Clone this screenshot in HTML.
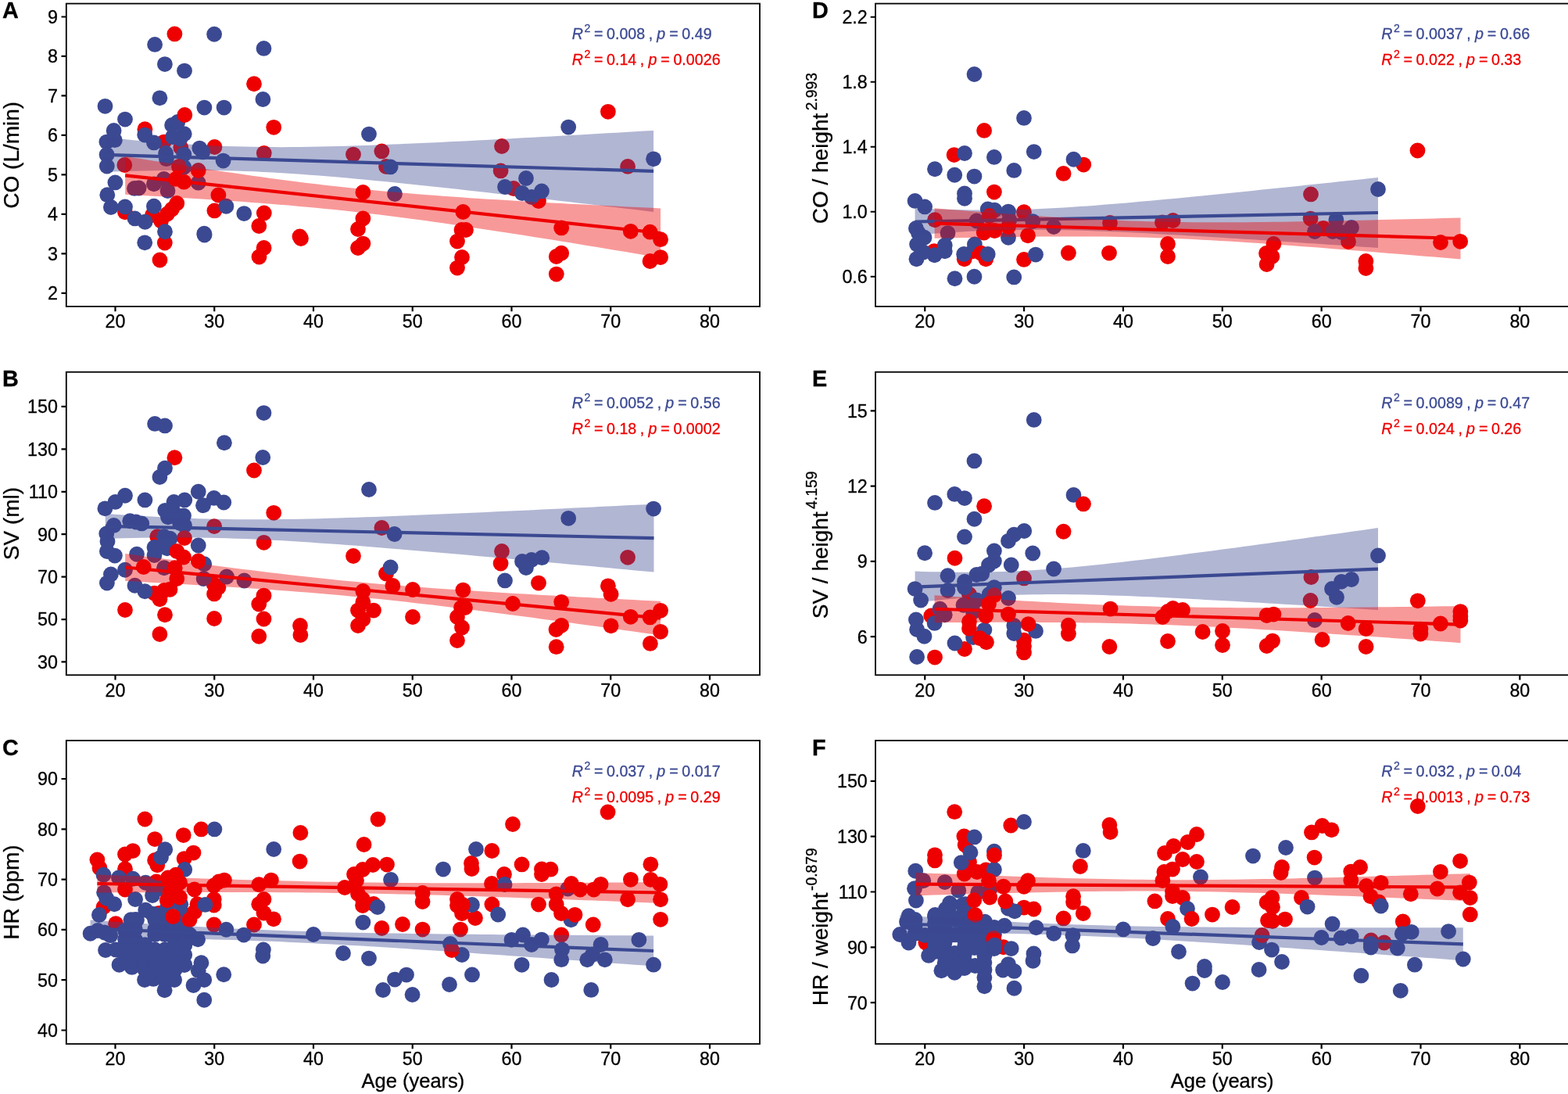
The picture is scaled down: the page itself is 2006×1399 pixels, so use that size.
<!DOCTYPE html>
<html lang="en"><head><meta charset="utf-8"><title>Figure</title>
<style>html,body{margin:0;padding:0;background:#fff}svg{display:block}text{font-family:"Liberation Sans",Arial,Helvetica,sans-serif;stroke-width:0.3px;stroke:currentColor;paint-order:stroke}</style></head>
<body>
<svg width="2006" height="1399" viewBox="0 0 2006 1399" role="img" aria-label="Scatter plots of CO, SV and HR versus age">
<rect width="2006" height="1399" fill="#fff"/>
<g id="panelA">
<g>
<circle cx="223.4" cy="43.4" r="9.9" fill="#EE0000"/><circle cx="325" cy="107.25" r="9.9" fill="#EE0000"/><circle cx="185.4" cy="165.2" r="9.9" fill="#EE0000"/><circle cx="350.2" cy="162.8" r="9.9" fill="#EE0000"/><circle cx="209.7" cy="181.6" r="9.9" fill="#EE0000"/><circle cx="231.3" cy="188.8" r="9.9" fill="#EE0000"/><circle cx="274.5" cy="188" r="9.9" fill="#EE0000"/><circle cx="337.8" cy="195.8" r="9.9" fill="#EE0000"/><circle cx="159.3" cy="211" r="9.9" fill="#EE0000"/><circle cx="279.4" cy="249.5" r="9.9" fill="#EE0000"/><circle cx="274.4" cy="269.4" r="9.9" fill="#EE0000"/><circle cx="226.25" cy="260" r="9.9" fill="#EE0000"/><circle cx="220" cy="267.5" r="9.9" fill="#EE0000"/><circle cx="213.75" cy="273.75" r="9.9" fill="#EE0000"/><circle cx="206" cy="282.5" r="9.9" fill="#EE0000"/><circle cx="195" cy="275" r="9.9" fill="#EE0000"/><circle cx="160" cy="271.25" r="9.9" fill="#EE0000"/><circle cx="337.8" cy="272.4" r="9.9" fill="#EE0000"/><circle cx="331.3" cy="289" r="9.9" fill="#EE0000"/><circle cx="210.8" cy="310.5" r="9.9" fill="#EE0000"/><circle cx="204.5" cy="332.5" r="9.9" fill="#EE0000"/><circle cx="337.6" cy="317" r="9.9" fill="#EE0000"/><circle cx="331.5" cy="328.5" r="9.9" fill="#EE0000"/><circle cx="383.5" cy="302.5" r="9.9" fill="#EE0000"/><circle cx="385" cy="305" r="9.9" fill="#EE0000"/><circle cx="452" cy="197.6" r="9.9" fill="#EE0000"/><circle cx="488.4" cy="193.4" r="9.9" fill="#EE0000"/><circle cx="494" cy="213" r="9.9" fill="#EE0000"/><circle cx="642" cy="187" r="9.9" fill="#EE0000"/><circle cx="640.6" cy="218.4" r="9.9" fill="#EE0000"/><circle cx="657" cy="241" r="9.9" fill="#EE0000"/><circle cx="689" cy="257" r="9.9" fill="#EE0000"/><circle cx="464.4" cy="246" r="9.9" fill="#EE0000"/><circle cx="464.4" cy="279.4" r="9.9" fill="#EE0000"/><circle cx="458" cy="293" r="9.9" fill="#EE0000"/><circle cx="464.4" cy="311.6" r="9.9" fill="#EE0000"/><circle cx="458" cy="317" r="9.9" fill="#EE0000"/><circle cx="592.4" cy="271" r="9.9" fill="#EE0000"/><circle cx="590.5" cy="294" r="9.9" fill="#EE0000"/><circle cx="596" cy="294" r="9.9" fill="#EE0000"/><circle cx="585" cy="308.6" r="9.9" fill="#EE0000"/><circle cx="591" cy="329" r="9.9" fill="#EE0000"/><circle cx="585" cy="342.6" r="9.9" fill="#EE0000"/><circle cx="718.2" cy="291.4" r="9.9" fill="#EE0000"/><circle cx="718.2" cy="323.7" r="9.9" fill="#EE0000"/><circle cx="711.8" cy="328" r="9.9" fill="#EE0000"/><circle cx="711.8" cy="350.6" r="9.9" fill="#EE0000"/><circle cx="777.9" cy="142.8" r="9.9" fill="#EE0000"/><circle cx="803.1" cy="212.9" r="9.9" fill="#EE0000"/><circle cx="806.8" cy="295.8" r="9.9" fill="#EE0000"/><circle cx="831.6" cy="296.7" r="9.9" fill="#EE0000"/><circle cx="845.1" cy="306.2" r="9.9" fill="#EE0000"/><circle cx="845.1" cy="329.1" r="9.9" fill="#EE0000"/><circle cx="831.6" cy="334" r="9.9" fill="#EE0000"/><circle cx="134.5" cy="135.8" r="9.9" fill="#3B4992"/><circle cx="160" cy="152.6" r="9.9" fill="#3B4992"/><circle cx="145.6" cy="167" r="9.9" fill="#3B4992"/><circle cx="146.8" cy="179.2" r="9.9" fill="#3B4992"/><circle cx="136.4" cy="181.6" r="9.9" fill="#3B4992"/><circle cx="136.6" cy="197.8" r="9.9" fill="#3B4992"/><circle cx="136.8" cy="212.5" r="9.9" fill="#3B4992"/><circle cx="147.4" cy="233.4" r="9.9" fill="#3B4992"/><circle cx="137.3" cy="249.2" r="9.9" fill="#3B4992"/><circle cx="141.9" cy="265" r="9.9" fill="#3B4992"/><circle cx="160" cy="264.4" r="9.9" fill="#3B4992"/><circle cx="172.5" cy="279.4" r="9.9" fill="#3B4992"/><circle cx="185.6" cy="283.75" r="9.9" fill="#3B4992"/><circle cx="196.9" cy="263.75" r="9.9" fill="#3B4992"/><circle cx="211" cy="296.25" r="9.9" fill="#3B4992"/><circle cx="261.25" cy="298.75" r="9.9" fill="#3B4992"/><circle cx="261.6" cy="300.6" r="9.9" fill="#3B4992"/><circle cx="289.4" cy="263.75" r="9.9" fill="#3B4992"/><circle cx="312.25" cy="273.1" r="9.9" fill="#3B4992"/><circle cx="261.4" cy="137.6" r="9.9" fill="#3B4992"/><circle cx="286.6" cy="137.6" r="9.9" fill="#3B4992"/><circle cx="204.4" cy="125.3" r="9.9" fill="#3B4992"/><circle cx="336.4" cy="127" r="9.9" fill="#3B4992"/><circle cx="198.1" cy="56.9" r="9.9" fill="#3B4992"/><circle cx="274.1" cy="43.75" r="9.9" fill="#3B4992"/><circle cx="337.5" cy="61.9" r="9.9" fill="#3B4992"/><circle cx="210.9" cy="82.1" r="9.9" fill="#3B4992"/><circle cx="236" cy="90.6" r="9.9" fill="#3B4992"/><circle cx="185.2" cy="172.6" r="9.9" fill="#3B4992"/><circle cx="196.9" cy="182.4" r="9.9" fill="#3B4992"/><circle cx="212.1" cy="196" r="9.9" fill="#3B4992"/><circle cx="220.1" cy="160" r="9.9" fill="#3B4992"/><circle cx="227.3" cy="156" r="9.9" fill="#3B4992"/><circle cx="235.7" cy="171.2" r="9.9" fill="#3B4992"/><circle cx="230.5" cy="177.6" r="9.9" fill="#3B4992"/><circle cx="220.9" cy="175.2" r="9.9" fill="#3B4992"/><circle cx="255.3" cy="189.6" r="9.9" fill="#3B4992"/><circle cx="259.3" cy="194.4" r="9.9" fill="#3B4992"/><circle cx="235.3" cy="197.6" r="9.9" fill="#3B4992"/><circle cx="235.3" cy="213.7" r="9.9" fill="#3B4992"/><circle cx="285.6" cy="205.6" r="9.9" fill="#3B4992"/><circle cx="212.9" cy="203.2" r="9.9" fill="#3B4992"/><circle cx="172" cy="240.9" r="9.9" fill="#3B4992"/><circle cx="177.6" cy="240.5" r="9.9" fill="#3B4992"/><circle cx="196.9" cy="235.3" r="9.9" fill="#3B4992"/><circle cx="209.7" cy="228.9" r="9.9" fill="#3B4992"/><circle cx="214.5" cy="244.1" r="9.9" fill="#3B4992"/><circle cx="253.7" cy="233.7" r="9.9" fill="#3B4992"/><circle cx="472" cy="171.6" r="9.9" fill="#3B4992"/><circle cx="499.6" cy="213.4" r="9.9" fill="#3B4992"/><circle cx="505" cy="248" r="9.9" fill="#3B4992"/><circle cx="727.2" cy="162.6" r="9.9" fill="#3B4992"/><circle cx="646" cy="239" r="9.9" fill="#3B4992"/><circle cx="673" cy="228" r="9.9" fill="#3B4992"/><circle cx="693" cy="244.4" r="9.9" fill="#3B4992"/><circle cx="668" cy="247" r="9.9" fill="#3B4992"/><circle cx="680" cy="252" r="9.9" fill="#3B4992"/><circle cx="836.1" cy="203.3" r="9.9" fill="#3B4992"/><circle cx="185.2" cy="310.3" r="9.9" fill="#3B4992"/><circle cx="236.3" cy="147" r="9.9" fill="#EE0000"/><circle cx="228.9" cy="212.9" r="9.9" fill="#EE0000"/><circle cx="253.7" cy="218" r="9.9" fill="#EE0000"/><circle cx="224.9" cy="228.9" r="9.9" fill="#EE0000"/><circle cx="235.3" cy="232.7" r="9.9" fill="#EE0000"/>
</g>
<polygon points="134.8,175.9 146.69,177.02 158.57,178.11 170.46,179.16 182.35,180.18 194.23,181.15 206.12,182.08 218.01,182.95 229.89,183.77 241.78,184.53 253.66,185.23 265.55,185.85 277.44,186.4 289.32,186.88 301.21,187.28 313.1,187.6 324.98,187.84 336.87,188.01 348.76,188.11 360.64,188.13 372.53,188.09 384.42,187.99 396.3,187.83 408.19,187.62 420.07,187.36 431.96,187.07 443.85,186.73 455.73,186.35 467.62,185.95 479.51,185.52 491.39,185.06 503.28,184.58 515.17,184.08 527.05,183.56 538.94,183.02 550.83,182.47 562.71,181.9 574.6,181.32 586.48,180.74 598.37,180.14 610.26,179.53 622.14,178.91 634.03,178.28 645.92,177.65 657.8,177.01 669.69,176.37 681.58,175.72 693.46,175.06 705.35,174.4 717.24,173.74 729.12,173.07 741.01,172.39 752.89,171.72 764.78,171.04 776.67,170.35 788.55,169.67 800.44,168.98 812.33,168.29 824.21,167.6 836.1,166.9 836.1,270.9 824.21,269.49 812.33,268.09 800.44,266.68 788.55,265.28 776.67,263.89 764.78,262.49 752.89,261.1 741.01,259.71 729.12,258.33 717.24,256.95 705.35,255.57 693.46,254.2 681.58,252.83 669.69,251.47 657.8,250.11 645.92,248.76 634.03,247.41 622.14,246.08 610.26,244.75 598.37,243.43 586.48,242.12 574.6,240.81 562.71,239.52 550.83,238.25 538.94,236.98 527.05,235.74 515.17,234.5 503.28,233.29 491.39,232.1 479.51,230.93 467.62,229.78 455.73,228.67 443.85,227.58 431.96,226.53 420.07,225.52 408.19,224.55 396.3,223.63 384.42,222.76 372.53,221.95 360.64,221.19 348.76,220.51 336.87,219.89 324.98,219.35 313.1,218.88 301.21,218.49 289.32,218.17 277.44,217.94 265.55,217.78 253.66,217.69 241.78,217.67 229.89,217.72 218.01,217.83 206.12,217.99 194.23,218.21 182.35,218.47 170.46,218.77 158.57,219.12 146.69,219.49 134.8,219.9" fill="#3B4992" fill-opacity="0.4"/>
<line x1="134.8" y1="197.9" x2="836.1" y2="218.9" stroke="#3B4992" stroke-width="4.2"/>
<polygon points="160.2,199.8 171.81,201.67 183.42,203.54 195.03,205.39 206.63,207.23 218.24,209.06 229.85,210.87 241.46,212.67 253.07,214.45 264.68,216.21 276.28,217.95 287.89,219.67 299.5,221.37 311.11,223.04 322.72,224.68 334.33,226.3 345.94,227.88 357.54,229.43 369.15,230.95 380.76,232.43 392.37,233.88 403.98,235.28 415.59,236.64 427.19,237.96 438.8,239.24 450.41,240.48 462.02,241.67 473.63,242.83 485.24,243.94 496.85,245.01 508.45,246.04 520.06,247.04 531.67,248 543.28,248.93 554.89,249.82 566.5,250.69 578.11,251.53 589.71,252.34 601.32,253.13 612.93,253.89 624.54,254.64 636.15,255.37 647.76,256.08 659.36,256.77 670.97,257.44 682.58,258.11 694.19,258.76 705.8,259.4 717.41,260.03 729.02,260.64 740.62,261.25 752.23,261.85 763.84,262.44 775.45,263.03 787.06,263.6 798.67,264.17 810.27,264.74 821.88,265.3 833.49,265.85 845.1,266.4 845.1,329.6 833.49,327.65 821.88,325.71 810.27,323.77 798.67,321.83 787.06,319.9 775.45,317.98 763.84,316.07 752.23,314.16 740.62,312.26 729.02,310.37 717.41,308.49 705.8,306.62 694.19,304.76 682.58,302.92 670.97,301.08 659.36,299.26 647.76,297.45 636.15,295.66 624.54,293.89 612.93,292.14 601.32,290.41 589.71,288.7 578.11,287.01 566.5,285.35 554.89,283.72 543.28,282.12 531.67,280.55 520.06,279.01 508.45,277.51 496.85,276.04 485.24,274.61 473.63,273.23 462.02,271.88 450.41,270.58 438.8,269.32 427.19,268.1 415.59,266.92 403.98,265.79 392.37,264.69 380.76,263.64 369.15,262.62 357.54,261.64 345.94,260.69 334.33,259.78 322.72,258.89 311.11,258.04 299.5,257.21 287.89,256.41 276.28,255.63 264.68,254.88 253.07,254.14 241.46,253.42 229.85,252.72 218.24,252.03 206.63,251.36 195.03,250.7 183.42,250.06 171.81,249.42 160.2,248.8" fill="#EE0000" fill-opacity="0.4"/>
<line x1="160.2" y1="224.3" x2="845.1" y2="298" stroke="#EE0000" stroke-width="4.2"/>
<rect x="84.8" y="4.6" width="887.2" height="387.3" fill="none" stroke="#000" stroke-width="1.8"/>
<path d="M147.5 391.9v6.3M274.25 391.9v6.3M401 391.9v6.3M527.75 391.9v6.3M654.5 391.9v6.3M781.25 391.9v6.3M908 391.9v6.3M84.8 21.5h-6.3M84.8 71.97h-6.3M84.8 122.44h-6.3M84.8 172.91h-6.3M84.8 223.38h-6.3M84.8 273.85h-6.3M84.8 324.32h-6.3M84.8 374.79h-6.3" stroke="#000" stroke-width="2.2" fill="none"/>
<g font-size="23.3" fill="#000">
<text x="147.5" y="419.2" text-anchor="middle">20</text><text x="274.25" y="419.2" text-anchor="middle">30</text><text x="401" y="419.2" text-anchor="middle">40</text><text x="527.75" y="419.2" text-anchor="middle">50</text><text x="654.5" y="419.2" text-anchor="middle">60</text><text x="781.25" y="419.2" text-anchor="middle">70</text><text x="908" y="419.2" text-anchor="middle">80</text><text x="73.9" y="29.9" text-anchor="end">9</text><text x="73.9" y="80.37" text-anchor="end">8</text><text x="73.9" y="130.84" text-anchor="end">7</text><text x="73.9" y="181.31" text-anchor="end">6</text><text x="73.9" y="231.78" text-anchor="end">5</text><text x="73.9" y="282.25" text-anchor="end">4</text><text x="73.9" y="332.72" text-anchor="end">3</text><text x="73.9" y="383.19" text-anchor="end">2</text>
</g>
<text transform="translate(24 198.25) rotate(-90)" font-size="28.0" text-anchor="middle">CO (L/min)</text>
<text x="3" y="23.2" font-size="28.8" font-weight="bold">A</text>
<text x="731.7" y="49.8" font-size="19.7" style="color:#3B4992" fill="currentColor" word-spacing="-0.9" xml:space="preserve"><tspan font-style="italic">R</tspan><tspan font-size="14.18" dy="-8.6" dx="1.5">2</tspan><tspan dy="8.6" dx="4.6">= 0.008 , </tspan><tspan font-style="italic" dx="0.5">p</tspan><tspan dx="0.4"> = 0.49</tspan></text>
<text x="731.7" y="82.8" font-size="19.7" style="color:#EE0000" fill="currentColor" word-spacing="-0.9" xml:space="preserve"><tspan font-style="italic">R</tspan><tspan font-size="14.18" dy="-8.6" dx="1.5">2</tspan><tspan dy="8.6" dx="4.6">= 0.14 , </tspan><tspan font-style="italic" dx="0.5">p</tspan><tspan dx="0.4"> = 0.0026</tspan></text>
</g>
<g id="panelB">
<g>
<circle cx="223.4" cy="585.25" r="9.9" fill="#EE0000"/><circle cx="325" cy="601.5" r="9.9" fill="#EE0000"/><circle cx="350.2" cy="655.8" r="9.9" fill="#EE0000"/><circle cx="274.1" cy="673.1" r="9.9" fill="#EE0000"/><circle cx="337.6" cy="693.8" r="9.9" fill="#EE0000"/><circle cx="201.25" cy="686.25" r="9.9" fill="#EE0000"/><circle cx="197.5" cy="758.75" r="9.9" fill="#EE0000"/><circle cx="273.75" cy="747.5" r="9.9" fill="#EE0000"/><circle cx="279.4" cy="751.25" r="9.9" fill="#EE0000"/><circle cx="274.1" cy="759.4" r="9.9" fill="#EE0000"/><circle cx="337.5" cy="761.6" r="9.9" fill="#EE0000"/><circle cx="331.25" cy="772.5" r="9.9" fill="#EE0000"/><circle cx="160" cy="780" r="9.9" fill="#EE0000"/><circle cx="211" cy="786.25" r="9.9" fill="#EE0000"/><circle cx="274.1" cy="791" r="9.9" fill="#EE0000"/><circle cx="337.5" cy="791.5" r="9.9" fill="#EE0000"/><circle cx="204.4" cy="811" r="9.9" fill="#EE0000"/><circle cx="331.25" cy="813.75" r="9.9" fill="#EE0000"/><circle cx="384" cy="800" r="9.9" fill="#EE0000"/><circle cx="384.4" cy="812" r="9.9" fill="#EE0000"/><circle cx="452" cy="711" r="9.9" fill="#EE0000"/><circle cx="488.4" cy="675" r="9.9" fill="#EE0000"/><circle cx="494" cy="733.6" r="9.9" fill="#EE0000"/><circle cx="502.4" cy="749" r="9.9" fill="#EE0000"/><circle cx="528" cy="754" r="9.9" fill="#EE0000"/><circle cx="528" cy="789" r="9.9" fill="#EE0000"/><circle cx="464.4" cy="756" r="9.9" fill="#EE0000"/><circle cx="464.4" cy="770" r="9.9" fill="#EE0000"/><circle cx="458" cy="780.6" r="9.9" fill="#EE0000"/><circle cx="478" cy="780.6" r="9.9" fill="#EE0000"/><circle cx="464.4" cy="792" r="9.9" fill="#EE0000"/><circle cx="458" cy="800" r="9.9" fill="#EE0000"/><circle cx="592.4" cy="754.6" r="9.9" fill="#EE0000"/><circle cx="590" cy="777" r="9.9" fill="#EE0000"/><circle cx="595" cy="777" r="9.9" fill="#EE0000"/><circle cx="585" cy="789" r="9.9" fill="#EE0000"/><circle cx="591" cy="802.4" r="9.9" fill="#EE0000"/><circle cx="585" cy="819" r="9.9" fill="#EE0000"/><circle cx="642" cy="705" r="9.9" fill="#EE0000"/><circle cx="640.6" cy="720.6" r="9.9" fill="#EE0000"/><circle cx="656" cy="772" r="9.9" fill="#EE0000"/><circle cx="689" cy="745.6" r="9.9" fill="#EE0000"/><circle cx="718.2" cy="769.8" r="9.9" fill="#EE0000"/><circle cx="718.2" cy="799.8" r="9.9" fill="#EE0000"/><circle cx="711.5" cy="805" r="9.9" fill="#EE0000"/><circle cx="711.7" cy="827.2" r="9.9" fill="#EE0000"/><circle cx="803.1" cy="712.8" r="9.9" fill="#EE0000"/><circle cx="777.9" cy="749.3" r="9.9" fill="#EE0000"/><circle cx="781.6" cy="759.8" r="9.9" fill="#EE0000"/><circle cx="781.6" cy="800.3" r="9.9" fill="#EE0000"/><circle cx="806.8" cy="788.8" r="9.9" fill="#EE0000"/><circle cx="831.6" cy="789.4" r="9.9" fill="#EE0000"/><circle cx="845.1" cy="780.8" r="9.9" fill="#EE0000"/><circle cx="845.1" cy="807.8" r="9.9" fill="#EE0000"/><circle cx="831.9" cy="822.9" r="9.9" fill="#EE0000"/><circle cx="198.1" cy="541.9" r="9.9" fill="#3B4992"/><circle cx="211" cy="544.4" r="9.9" fill="#3B4992"/><circle cx="337.5" cy="528.1" r="9.9" fill="#3B4992"/><circle cx="286.9" cy="566.25" r="9.9" fill="#3B4992"/><circle cx="336.25" cy="585" r="9.9" fill="#3B4992"/><circle cx="211" cy="598.75" r="9.9" fill="#3B4992"/><circle cx="204.4" cy="610" r="9.9" fill="#3B4992"/><circle cx="253.75" cy="628.75" r="9.9" fill="#3B4992"/><circle cx="160" cy="633.75" r="9.9" fill="#3B4992"/><circle cx="147.5" cy="641.9" r="9.9" fill="#3B4992"/><circle cx="134.4" cy="650.3" r="9.9" fill="#3B4992"/><circle cx="185.4" cy="639.4" r="9.9" fill="#3B4992"/><circle cx="222.5" cy="641.9" r="9.9" fill="#3B4992"/><circle cx="236.25" cy="639.4" r="9.9" fill="#3B4992"/><circle cx="273.75" cy="636.9" r="9.9" fill="#3B4992"/><circle cx="286.25" cy="642.5" r="9.9" fill="#3B4992"/><circle cx="260" cy="646.25" r="9.9" fill="#3B4992"/><circle cx="211.25" cy="652.8" r="9.9" fill="#3B4992"/><circle cx="215" cy="661.25" r="9.9" fill="#3B4992"/><circle cx="235" cy="659.4" r="9.9" fill="#3B4992"/><circle cx="230" cy="668.75" r="9.9" fill="#3B4992"/><circle cx="222" cy="655" r="9.9" fill="#3B4992"/><circle cx="228" cy="660" r="9.9" fill="#3B4992"/><circle cx="236" cy="672" r="9.9" fill="#3B4992"/><circle cx="166.25" cy="666.25" r="9.9" fill="#3B4992"/><circle cx="174" cy="667.5" r="9.9" fill="#3B4992"/><circle cx="181.25" cy="669.4" r="9.9" fill="#3B4992"/><circle cx="145.6" cy="671.9" r="9.9" fill="#3B4992"/><circle cx="136.25" cy="682.5" r="9.9" fill="#3B4992"/><circle cx="137.5" cy="692.5" r="9.9" fill="#3B4992"/><circle cx="136.9" cy="705" r="9.9" fill="#3B4992"/><circle cx="146.9" cy="710.6" r="9.9" fill="#3B4992"/><circle cx="210" cy="686.25" r="9.9" fill="#3B4992"/><circle cx="217.5" cy="688.75" r="9.9" fill="#3B4992"/><circle cx="197.5" cy="700" r="9.9" fill="#3B4992"/><circle cx="213.75" cy="701.25" r="9.9" fill="#3B4992"/><circle cx="175" cy="708.75" r="9.9" fill="#3B4992"/><circle cx="197.5" cy="710" r="9.9" fill="#3B4992"/><circle cx="253.75" cy="697.5" r="9.9" fill="#3B4992"/><circle cx="261.25" cy="721.25" r="9.9" fill="#3B4992"/><circle cx="160" cy="728.75" r="9.9" fill="#3B4992"/><circle cx="141.9" cy="734.4" r="9.9" fill="#3B4992"/><circle cx="136.9" cy="745.6" r="9.9" fill="#3B4992"/><circle cx="172.5" cy="748.75" r="9.9" fill="#3B4992"/><circle cx="185.4" cy="756.25" r="9.9" fill="#3B4992"/><circle cx="210" cy="726.25" r="9.9" fill="#3B4992"/><circle cx="260.6" cy="740" r="9.9" fill="#3B4992"/><circle cx="290" cy="737.5" r="9.9" fill="#3B4992"/><circle cx="312.5" cy="742.5" r="9.9" fill="#3B4992"/><circle cx="472" cy="626" r="9.9" fill="#3B4992"/><circle cx="504.6" cy="683" r="9.9" fill="#3B4992"/><circle cx="499.6" cy="725.4" r="9.9" fill="#3B4992"/><circle cx="727.2" cy="662.8" r="9.9" fill="#3B4992"/><circle cx="646" cy="742.4" r="9.9" fill="#3B4992"/><circle cx="668" cy="718" r="9.9" fill="#3B4992"/><circle cx="680" cy="716" r="9.9" fill="#3B4992"/><circle cx="693.3" cy="713.2" r="9.9" fill="#3B4992"/><circle cx="673" cy="726" r="9.9" fill="#3B4992"/><circle cx="836.1" cy="650.6" r="9.9" fill="#3B4992"/><circle cx="236" cy="688.1" r="9.9" fill="#EE0000"/><circle cx="226.25" cy="705" r="9.9" fill="#EE0000"/><circle cx="235" cy="712.5" r="9.9" fill="#EE0000"/><circle cx="253.75" cy="717.5" r="9.9" fill="#EE0000"/><circle cx="183.75" cy="725" r="9.9" fill="#EE0000"/><circle cx="223.75" cy="726.25" r="9.9" fill="#EE0000"/><circle cx="226.25" cy="740" r="9.9" fill="#EE0000"/><circle cx="217.5" cy="753.75" r="9.9" fill="#EE0000"/><circle cx="210" cy="755" r="9.9" fill="#EE0000"/><circle cx="204.4" cy="766.25" r="9.9" fill="#EE0000"/>
</g>
<polygon points="134.8,656.8 146.69,657.63 158.59,658.42 170.48,659.18 182.37,659.9 194.27,660.58 206.16,661.21 218.05,661.8 229.95,662.32 241.84,662.79 253.73,663.2 265.63,663.55 277.52,663.83 289.41,664.05 301.31,664.2 313.2,664.29 325.09,664.32 336.98,664.29 348.88,664.21 360.77,664.08 372.66,663.91 384.56,663.69 396.45,663.44 408.34,663.15 420.24,662.83 432.13,662.49 444.02,662.12 455.92,661.73 467.81,661.32 479.7,660.9 491.6,660.46 503.49,660 515.38,659.53 527.28,659.05 539.17,658.56 551.06,658.06 562.96,657.55 574.85,657.04 586.74,656.51 598.64,655.98 610.53,655.45 622.42,654.91 634.32,654.36 646.21,653.81 658.1,653.26 669.99,652.7 681.89,652.14 693.78,651.57 705.67,651 717.57,650.43 729.46,649.86 741.35,649.28 753.25,648.7 765.14,648.12 777.03,647.54 788.93,646.96 800.82,646.37 812.71,645.78 824.61,645.19 836.5,644.6 836.5,731.6 824.61,730.49 812.71,729.38 800.82,728.28 788.93,727.17 777.03,726.07 765.14,724.97 753.25,723.87 741.35,722.77 729.46,721.67 717.57,720.58 705.67,719.49 693.78,718.4 681.89,717.32 669.99,716.24 658.1,715.16 646.21,714.09 634.32,713.02 622.42,711.96 610.53,710.9 598.64,709.84 586.74,708.8 574.85,707.75 562.96,706.72 551.06,705.69 539.17,704.67 527.28,703.66 515.38,702.67 503.49,701.68 491.6,700.7 479.7,699.74 467.81,698.8 455.92,697.87 444.02,696.96 432.13,696.08 420.24,695.21 408.34,694.38 396.45,693.57 384.56,692.8 372.66,692.07 360.77,691.37 348.88,690.73 336.98,690.13 325.09,689.58 313.2,689.09 301.31,688.66 289.41,688.3 277.52,687.99 265.63,687.76 253.73,687.58 241.84,687.47 229.95,687.43 218.05,687.44 206.16,687.5 194.27,687.61 182.37,687.77 170.48,687.98 158.59,688.22 146.69,688.49 134.8,688.8" fill="#3B4992" fill-opacity="0.4"/>
<line x1="134.8" y1="672.8" x2="836.5" y2="688.1" stroke="#3B4992" stroke-width="4.2"/>
<polygon points="160.2,708 171.81,709.59 183.42,711.17 195.03,712.74 206.63,714.31 218.24,715.86 229.85,717.41 241.46,718.95 253.07,720.48 264.68,722 276.28,723.5 287.89,724.99 299.5,726.47 311.11,727.93 322.72,729.37 334.33,730.79 345.94,732.19 357.54,733.56 369.15,734.91 380.76,736.24 392.37,737.53 403.98,738.79 415.59,740.03 427.19,741.23 438.8,742.39 450.41,743.52 462.02,744.61 473.63,745.67 485.24,746.7 496.85,747.69 508.45,748.65 520.06,749.58 531.67,750.47 543.28,751.34 554.89,752.19 566.5,753.01 578.11,753.8 589.71,754.58 601.32,755.34 612.93,756.08 624.54,756.8 636.15,757.51 647.76,758.2 659.36,758.89 670.97,759.56 682.58,760.22 694.19,760.88 705.8,761.52 717.41,762.16 729.02,762.79 740.62,763.41 752.23,764.03 763.84,764.64 775.45,765.25 787.06,765.85 798.67,766.45 810.27,767.04 821.88,767.63 833.49,768.22 845.1,768.8 845.1,812.4 833.49,810.78 821.88,809.16 810.27,807.54 798.67,805.93 787.06,804.32 775.45,802.71 763.84,801.11 752.23,799.52 740.62,797.93 729.02,796.34 717.41,794.77 705.8,793.2 694.19,791.64 682.58,790.08 670.97,788.54 659.36,787 647.76,785.48 636.15,783.97 624.54,782.47 612.93,780.99 601.32,779.52 589.71,778.07 578.11,776.64 566.5,775.23 554.89,773.84 543.28,772.48 531.67,771.14 520.06,769.83 508.45,768.55 496.85,767.31 485.24,766.09 473.63,764.91 462.02,763.76 450.41,762.65 438.8,761.57 427.19,760.53 415.59,759.52 403.98,758.55 392.37,757.6 380.76,756.69 369.15,755.81 357.54,754.95 345.94,754.12 334.33,753.31 322.72,752.53 311.11,751.76 299.5,751.01 287.89,750.28 276.28,749.56 264.68,748.86 253.07,748.17 241.46,747.49 229.85,746.83 218.24,746.17 206.63,745.52 195.03,744.88 183.42,744.25 171.81,743.62 160.2,743" fill="#EE0000" fill-opacity="0.4"/>
<line x1="160.2" y1="725.5" x2="845.1" y2="790.6" stroke="#EE0000" stroke-width="4.2"/>
<rect x="84.8" y="475.75" width="887.2" height="387.5" fill="none" stroke="#000" stroke-width="1.8"/>
<path d="M147.5 863.25v6.3M274.25 863.25v6.3M401 863.25v6.3M527.75 863.25v6.3M654.5 863.25v6.3M781.25 863.25v6.3M908 863.25v6.3M84.8 519.95h-6.3M84.8 574.37h-6.3M84.8 628.79h-6.3M84.8 683.21h-6.3M84.8 737.63h-6.3M84.8 792.05h-6.3M84.8 846.47h-6.3" stroke="#000" stroke-width="2.2" fill="none"/>
<g font-size="23.3" fill="#000">
<text x="147.5" y="890.55" text-anchor="middle">20</text><text x="274.25" y="890.55" text-anchor="middle">30</text><text x="401" y="890.55" text-anchor="middle">40</text><text x="527.75" y="890.55" text-anchor="middle">50</text><text x="654.5" y="890.55" text-anchor="middle">60</text><text x="781.25" y="890.55" text-anchor="middle">70</text><text x="908" y="890.55" text-anchor="middle">80</text><text x="73.9" y="528.35" text-anchor="end">150</text><text x="73.9" y="582.77" text-anchor="end">130</text><text x="73.9" y="637.19" text-anchor="end">110</text><text x="73.9" y="691.61" text-anchor="end">90</text><text x="73.9" y="746.03" text-anchor="end">70</text><text x="73.9" y="800.45" text-anchor="end">50</text><text x="73.9" y="854.87" text-anchor="end">30</text>
</g>
<text transform="translate(24 669.5) rotate(-90)" font-size="28.0" text-anchor="middle">SV (ml)</text>
<text x="3" y="494.35" font-size="28.8" font-weight="bold">B</text>
<text x="731.7" y="521.7" font-size="19.7" style="color:#3B4992" fill="currentColor" word-spacing="-0.9" xml:space="preserve"><tspan font-style="italic">R</tspan><tspan font-size="14.18" dy="-8.6" dx="1.5">2</tspan><tspan dy="8.6" dx="4.6">= 0.0052 , </tspan><tspan font-style="italic" dx="0.5">p</tspan><tspan dx="0.4"> = 0.56</tspan></text>
<text x="731.7" y="554.7" font-size="19.7" style="color:#EE0000" fill="currentColor" word-spacing="-0.9" xml:space="preserve"><tspan font-style="italic">R</tspan><tspan font-size="14.18" dy="-8.6" dx="1.5">2</tspan><tspan dy="8.6" dx="4.6">= 0.18 , </tspan><tspan font-style="italic" dx="0.5">p</tspan><tspan dx="0.4"> = 0.0002</tspan></text>
</g>
<g id="panelC">
<g>
<circle cx="203" cy="1168" r="9.9" fill="#EE0000"/><circle cx="185.4" cy="1047.5" r="9.9" fill="#EE0000"/><circle cx="198.1" cy="1073.1" r="9.9" fill="#EE0000"/><circle cx="234.75" cy="1068.1" r="9.9" fill="#EE0000"/><circle cx="257.5" cy="1060.4" r="9.9" fill="#EE0000"/><circle cx="170" cy="1088.1" r="9.9" fill="#EE0000"/><circle cx="160" cy="1092.5" r="9.9" fill="#EE0000"/><circle cx="124.4" cy="1099.4" r="9.9" fill="#EE0000"/><circle cx="127.5" cy="1110" r="9.9" fill="#EE0000"/><circle cx="160" cy="1111.25" r="9.9" fill="#EE0000"/><circle cx="198.1" cy="1100" r="9.9" fill="#EE0000"/><circle cx="201.25" cy="1106.25" r="9.9" fill="#EE0000"/><circle cx="247.5" cy="1090.6" r="9.9" fill="#EE0000"/><circle cx="235.6" cy="1098.1" r="9.9" fill="#EE0000"/><circle cx="200" cy="1127.5" r="9.9" fill="#EE0000"/><circle cx="160" cy="1137.5" r="9.9" fill="#EE0000"/><circle cx="132.5" cy="1160" r="9.9" fill="#EE0000"/><circle cx="148.1" cy="1181.25" r="9.9" fill="#EE0000"/><circle cx="280" cy="1127.5" r="9.9" fill="#EE0000"/><circle cx="286.9" cy="1125.6" r="9.9" fill="#EE0000"/><circle cx="331.25" cy="1131.25" r="9.9" fill="#EE0000"/><circle cx="346.9" cy="1125.6" r="9.9" fill="#EE0000"/><circle cx="337.5" cy="1150" r="9.9" fill="#EE0000"/><circle cx="331.25" cy="1156.25" r="9.9" fill="#EE0000"/><circle cx="337.5" cy="1167.5" r="9.9" fill="#EE0000"/><circle cx="350" cy="1175.3" r="9.9" fill="#EE0000"/><circle cx="325" cy="1182.5" r="9.9" fill="#EE0000"/><circle cx="273.75" cy="1182.5" r="9.9" fill="#EE0000"/><circle cx="273.75" cy="1132.5" r="9.9" fill="#EE0000"/><circle cx="483.6" cy="1047.6" r="9.9" fill="#EE0000"/><circle cx="384.4" cy="1065" r="9.9" fill="#EE0000"/><circle cx="465.6" cy="1080" r="9.9" fill="#EE0000"/><circle cx="383.6" cy="1101.6" r="9.9" fill="#EE0000"/><circle cx="656" cy="1054" r="9.9" fill="#EE0000"/><circle cx="629.4" cy="1088" r="9.9" fill="#EE0000"/><circle cx="603" cy="1104" r="9.9" fill="#EE0000"/><circle cx="603.5" cy="1111" r="9.9" fill="#EE0000"/><circle cx="667.6" cy="1105.4" r="9.9" fill="#EE0000"/><circle cx="693" cy="1111.5" r="9.9" fill="#EE0000"/><circle cx="693" cy="1118" r="9.9" fill="#EE0000"/><circle cx="704.5" cy="1111.7" r="9.9" fill="#EE0000"/><circle cx="645" cy="1118" r="9.9" fill="#EE0000"/><circle cx="477" cy="1106" r="9.9" fill="#EE0000"/><circle cx="495" cy="1105.6" r="9.9" fill="#EE0000"/><circle cx="464" cy="1112" r="9.9" fill="#EE0000"/><circle cx="453" cy="1118" r="9.9" fill="#EE0000"/><circle cx="456" cy="1126" r="9.9" fill="#EE0000"/><circle cx="441" cy="1135" r="9.9" fill="#EE0000"/><circle cx="458" cy="1143" r="9.9" fill="#EE0000"/><circle cx="464" cy="1150" r="9.9" fill="#EE0000"/><circle cx="464" cy="1158" r="9.9" fill="#EE0000"/><circle cx="478" cy="1156" r="9.9" fill="#EE0000"/><circle cx="540.6" cy="1142" r="9.9" fill="#EE0000"/><circle cx="540.6" cy="1153" r="9.9" fill="#EE0000"/><circle cx="585" cy="1150" r="9.9" fill="#EE0000"/><circle cx="585" cy="1158" r="9.9" fill="#EE0000"/><circle cx="591" cy="1168" r="9.9" fill="#EE0000"/><circle cx="608" cy="1174" r="9.9" fill="#EE0000"/><circle cx="629.4" cy="1156.5" r="9.9" fill="#EE0000"/><circle cx="629" cy="1130" r="9.9" fill="#EE0000"/><circle cx="689" cy="1156.6" r="9.9" fill="#EE0000"/><circle cx="711.7" cy="1143.3" r="9.9" fill="#EE0000"/><circle cx="711.7" cy="1156.5" r="9.9" fill="#EE0000"/><circle cx="718.2" cy="1195.5" r="9.9" fill="#EE0000"/><circle cx="589" cy="1188.6" r="9.9" fill="#EE0000"/><circle cx="540.6" cy="1188.6" r="9.9" fill="#EE0000"/><circle cx="515" cy="1182" r="9.9" fill="#EE0000"/><circle cx="488.4" cy="1187" r="9.9" fill="#EE0000"/><circle cx="777.6" cy="1038.5" r="9.9" fill="#EE0000"/><circle cx="742.3" cy="1137.6" r="9.9" fill="#EE0000"/><circle cx="759.6" cy="1137.6" r="9.9" fill="#EE0000"/><circle cx="768.6" cy="1130.8" r="9.9" fill="#EE0000"/><circle cx="806.9" cy="1124.8" r="9.9" fill="#EE0000"/><circle cx="832.4" cy="1105.3" r="9.9" fill="#EE0000"/><circle cx="832.4" cy="1124.8" r="9.9" fill="#EE0000"/><circle cx="844.4" cy="1130.8" r="9.9" fill="#EE0000"/><circle cx="845.1" cy="1150.3" r="9.9" fill="#EE0000"/><circle cx="803.1" cy="1150.3" r="9.9" fill="#EE0000"/><circle cx="845.1" cy="1175.8" r="9.9" fill="#EE0000"/><circle cx="758.8" cy="1182.5" r="9.9" fill="#EE0000"/><circle cx="274.4" cy="1060.4" r="9.9" fill="#3B4992"/><circle cx="211.25" cy="1086.25" r="9.9" fill="#3B4992"/><circle cx="206" cy="1096.25" r="9.9" fill="#3B4992"/><circle cx="236.25" cy="1111.9" r="9.9" fill="#3B4992"/><circle cx="350.2" cy="1086" r="9.9" fill="#3B4992"/><circle cx="132.5" cy="1118.75" r="9.9" fill="#3B4992"/><circle cx="151.9" cy="1122.5" r="9.9" fill="#3B4992"/><circle cx="170" cy="1123.75" r="9.9" fill="#3B4992"/><circle cx="186.25" cy="1128.75" r="9.9" fill="#3B4992"/><circle cx="133.1" cy="1141.25" r="9.9" fill="#3B4992"/><circle cx="136.25" cy="1148.75" r="9.9" fill="#3B4992"/><circle cx="146.25" cy="1156.25" r="9.9" fill="#3B4992"/><circle cx="173.1" cy="1150" r="9.9" fill="#3B4992"/><circle cx="195" cy="1145" r="9.9" fill="#3B4992"/><circle cx="126.9" cy="1170" r="9.9" fill="#3B4992"/><circle cx="231.25" cy="1156.25" r="9.9" fill="#3B4992"/><circle cx="236.25" cy="1170" r="9.9" fill="#3B4992"/><circle cx="213.75" cy="1161.25" r="9.9" fill="#3B4992"/><circle cx="186.25" cy="1163.75" r="9.9" fill="#3B4992"/><circle cx="195" cy="1168.75" r="9.9" fill="#3B4992"/><circle cx="167.5" cy="1176.25" r="9.9" fill="#3B4992"/><circle cx="115.6" cy="1193.75" r="9.9" fill="#3B4992"/><circle cx="133.75" cy="1192.5" r="9.9" fill="#3B4992"/><circle cx="141.25" cy="1196.25" r="9.9" fill="#3B4992"/><circle cx="135" cy="1215" r="9.9" fill="#3B4992"/><circle cx="148.1" cy="1214.4" r="9.9" fill="#3B4992"/><circle cx="152.5" cy="1233.75" r="9.9" fill="#3B4992"/><circle cx="168.75" cy="1236.9" r="9.9" fill="#3B4992"/><circle cx="185" cy="1253.1" r="9.9" fill="#3B4992"/><circle cx="196.25" cy="1251.9" r="9.9" fill="#3B4992"/><circle cx="210.6" cy="1266.25" r="9.9" fill="#3B4992"/><circle cx="223.1" cy="1253.1" r="9.9" fill="#3B4992"/><circle cx="210" cy="1247.5" r="9.9" fill="#3B4992"/><circle cx="235.6" cy="1233.75" r="9.9" fill="#3B4992"/><circle cx="257.5" cy="1231.25" r="9.9" fill="#3B4992"/><circle cx="253.75" cy="1241.25" r="9.9" fill="#3B4992"/><circle cx="261.25" cy="1253.1" r="9.9" fill="#3B4992"/><circle cx="247.5" cy="1260" r="9.9" fill="#3B4992"/><circle cx="261.25" cy="1278.75" r="9.9" fill="#3B4992"/><circle cx="286.25" cy="1246.25" r="9.9" fill="#3B4992"/><circle cx="336.9" cy="1214.4" r="9.9" fill="#3B4992"/><circle cx="336.25" cy="1222.5" r="9.9" fill="#3B4992"/><circle cx="289.4" cy="1188.75" r="9.9" fill="#3B4992"/><circle cx="311.9" cy="1195.6" r="9.9" fill="#3B4992"/><circle cx="253.1" cy="1201.25" r="9.9" fill="#3B4992"/><circle cx="242.5" cy="1195" r="9.9" fill="#3B4992"/><circle cx="236.25" cy="1208.75" r="9.9" fill="#3B4992"/><circle cx="175" cy="1176.25" r="9.9" fill="#3B4992"/><circle cx="160" cy="1190" r="9.9" fill="#3B4992"/><circle cx="162.5" cy="1200" r="9.9" fill="#3B4992"/><circle cx="125" cy="1190" r="9.9" fill="#3B4992"/><circle cx="500" cy="1125" r="9.9" fill="#3B4992"/><circle cx="567" cy="1111.6" r="9.9" fill="#3B4992"/><circle cx="609" cy="1086" r="9.9" fill="#3B4992"/><circle cx="645.6" cy="1131" r="9.9" fill="#3B4992"/><circle cx="726.5" cy="1136.5" r="9.9" fill="#3B4992"/><circle cx="483" cy="1160" r="9.9" fill="#3B4992"/><circle cx="464.4" cy="1179.6" r="9.9" fill="#3B4992"/><circle cx="604" cy="1157" r="9.9" fill="#3B4992"/><circle cx="637.2" cy="1169.5" r="9.9" fill="#3B4992"/><circle cx="730.5" cy="1176.3" r="9.9" fill="#3B4992"/><circle cx="401" cy="1195" r="9.9" fill="#3B4992"/><circle cx="439" cy="1219" r="9.9" fill="#3B4992"/><circle cx="472" cy="1225.6" r="9.9" fill="#3B4992"/><circle cx="576" cy="1207" r="9.9" fill="#3B4992"/><circle cx="591" cy="1221" r="9.9" fill="#3B4992"/><circle cx="669" cy="1195.5" r="9.9" fill="#3B4992"/><circle cx="654.5" cy="1201.8" r="9.9" fill="#3B4992"/><circle cx="692.9" cy="1201.6" r="9.9" fill="#3B4992"/><circle cx="680" cy="1208" r="9.9" fill="#3B4992"/><circle cx="719" cy="1214.3" r="9.9" fill="#3B4992"/><circle cx="718.2" cy="1227.2" r="9.9" fill="#3B4992"/><circle cx="667.6" cy="1233.8" r="9.9" fill="#3B4992"/><circle cx="604" cy="1246.4" r="9.9" fill="#3B4992"/><circle cx="705.5" cy="1253" r="9.9" fill="#3B4992"/><circle cx="575" cy="1259" r="9.9" fill="#3B4992"/><circle cx="520" cy="1246.6" r="9.9" fill="#3B4992"/><circle cx="505" cy="1252.6" r="9.9" fill="#3B4992"/><circle cx="490" cy="1266" r="9.9" fill="#3B4992"/><circle cx="527.6" cy="1272" r="9.9" fill="#3B4992"/><circle cx="817.4" cy="1201.8" r="9.9" fill="#3B4992"/><circle cx="768.6" cy="1208" r="9.9" fill="#3B4992"/><circle cx="751.3" cy="1227.3" r="9.9" fill="#3B4992"/><circle cx="758.1" cy="1220.5" r="9.9" fill="#3B4992"/><circle cx="773.8" cy="1227.3" r="9.9" fill="#3B4992"/><circle cx="836.1" cy="1233.7" r="9.9" fill="#3B4992"/><circle cx="756.3" cy="1265.9" r="9.9" fill="#3B4992"/><circle cx="195" cy="1134" r="9.9" fill="#3B4992"/><circle cx="205" cy="1136" r="9.9" fill="#3B4992"/><circle cx="160.18" cy="1201.6" r="9.9" fill="#3B4992"/><circle cx="160.18" cy="1208.03" r="9.9" fill="#3B4992"/><circle cx="160.18" cy="1220.88" r="9.9" fill="#3B4992"/><circle cx="172.85" cy="1175.9" r="9.9" fill="#3B4992"/><circle cx="172.85" cy="1188.75" r="9.9" fill="#3B4992"/><circle cx="172.85" cy="1201.6" r="9.9" fill="#3B4992"/><circle cx="172.85" cy="1214.46" r="9.9" fill="#3B4992"/><circle cx="172.85" cy="1227.31" r="9.9" fill="#3B4992"/><circle cx="185.53" cy="1208.03" r="9.9" fill="#3B4992"/><circle cx="185.53" cy="1220.88" r="9.9" fill="#3B4992"/><circle cx="185.53" cy="1233.74" r="9.9" fill="#3B4992"/><circle cx="185.53" cy="1240.17" r="9.9" fill="#3B4992"/><circle cx="198.2" cy="1169.47" r="9.9" fill="#3B4992"/><circle cx="198.2" cy="1175.9" r="9.9" fill="#3B4992"/><circle cx="198.2" cy="1188.75" r="9.9" fill="#3B4992"/><circle cx="198.2" cy="1195.18" r="9.9" fill="#3B4992"/><circle cx="198.2" cy="1214.46" r="9.9" fill="#3B4992"/><circle cx="198.2" cy="1227.31" r="9.9" fill="#3B4992"/><circle cx="198.2" cy="1240.17" r="9.9" fill="#3B4992"/><circle cx="210.88" cy="1169.47" r="9.9" fill="#3B4992"/><circle cx="210.88" cy="1182.32" r="9.9" fill="#3B4992"/><circle cx="210.88" cy="1195.18" r="9.9" fill="#3B4992"/><circle cx="210.88" cy="1214.46" r="9.9" fill="#3B4992"/><circle cx="210.88" cy="1227.31" r="9.9" fill="#3B4992"/><circle cx="210.88" cy="1240.17" r="9.9" fill="#3B4992"/><circle cx="210.88" cy="1253.02" r="9.9" fill="#3B4992"/><circle cx="223.55" cy="1175.9" r="9.9" fill="#3B4992"/><circle cx="223.55" cy="1188.75" r="9.9" fill="#3B4992"/><circle cx="223.55" cy="1201.6" r="9.9" fill="#3B4992"/><circle cx="223.55" cy="1214.46" r="9.9" fill="#3B4992"/><circle cx="223.55" cy="1227.31" r="9.9" fill="#3B4992"/><circle cx="223.55" cy="1240.17" r="9.9" fill="#3B4992"/><circle cx="236.23" cy="1182.32" r="9.9" fill="#3B4992"/><circle cx="236.23" cy="1195.18" r="9.9" fill="#3B4992"/><circle cx="236.23" cy="1208.03" r="9.9" fill="#3B4992"/><circle cx="236.23" cy="1220.88" r="9.9" fill="#3B4992"/><circle cx="236.23" cy="1233.74" r="9.9" fill="#3B4992"/><circle cx="221.25" cy="1172" r="9.9" fill="#EE0000"/><circle cx="215" cy="1122.5" r="9.9" fill="#EE0000"/><circle cx="225" cy="1118.75" r="9.9" fill="#EE0000"/><circle cx="230" cy="1128.75" r="9.9" fill="#EE0000"/><circle cx="217.5" cy="1141.25" r="9.9" fill="#EE0000"/><circle cx="230" cy="1147.5" r="9.9" fill="#EE0000"/><circle cx="213.75" cy="1151.25" r="9.9" fill="#EE0000"/><circle cx="248.75" cy="1137.5" r="9.9" fill="#EE0000"/><circle cx="252.5" cy="1156.25" r="9.9" fill="#EE0000"/><circle cx="248.75" cy="1166.25" r="9.9" fill="#EE0000"/><circle cx="242.5" cy="1176.25" r="9.9" fill="#EE0000"/><circle cx="273.75" cy="1150" r="9.9" fill="#EE0000"/><circle cx="273.75" cy="1157.5" r="9.9" fill="#EE0000"/><circle cx="592" cy="1157" r="9.9" fill="#EE0000"/><circle cx="578" cy="1215" r="9.9" fill="#EE0000"/><circle cx="731" cy="1130" r="9.9" fill="#EE0000"/><circle cx="735.5" cy="1169.8" r="9.9" fill="#EE0000"/><circle cx="718" cy="1168" r="9.9" fill="#EE0000"/><circle cx="262.5" cy="1156.9" r="9.9" fill="#3B4992"/>
</g>
<polygon points="115.6,1176.5 127.81,1177.32 140.02,1178.13 152.24,1178.93 164.45,1179.72 176.66,1180.5 188.87,1181.26 201.08,1182.02 213.29,1182.76 225.51,1183.48 237.72,1184.18 249.93,1184.87 262.14,1185.53 274.35,1186.17 286.57,1186.79 298.78,1187.38 310.99,1187.95 323.2,1188.49 335.41,1189.01 347.63,1189.49 359.84,1189.95 372.05,1190.38 384.26,1190.78 396.47,1191.16 408.68,1191.51 420.9,1191.83 433.11,1192.14 445.32,1192.42 457.53,1192.69 469.74,1192.94 481.96,1193.17 494.17,1193.38 506.38,1193.58 518.59,1193.77 530.8,1193.95 543.02,1194.12 555.23,1194.27 567.44,1194.42 579.65,1194.56 591.86,1194.7 604.07,1194.82 616.29,1194.95 628.5,1195.06 640.71,1195.17 652.92,1195.28 665.13,1195.38 677.35,1195.48 689.56,1195.57 701.77,1195.66 713.98,1195.75 726.19,1195.83 738.41,1195.92 750.62,1196 762.83,1196.07 775.04,1196.15 787.25,1196.22 799.46,1196.29 811.68,1196.36 823.89,1196.43 836.1,1196.5 836.1,1235.5 823.89,1234.6 811.68,1233.7 799.46,1232.81 787.25,1231.91 775.04,1231.02 762.83,1230.13 750.62,1229.24 738.41,1228.35 726.19,1227.47 713.98,1226.59 701.77,1225.71 689.56,1224.84 677.35,1223.96 665.13,1223.1 652.92,1222.23 640.71,1221.37 628.5,1220.52 616.29,1219.66 604.07,1218.82 591.86,1217.98 579.65,1217.15 567.44,1216.32 555.23,1215.51 543.02,1214.7 530.8,1213.9 518.59,1213.11 506.38,1212.33 494.17,1211.57 481.96,1210.82 469.74,1210.08 457.53,1209.36 445.32,1208.66 433.11,1207.98 420.9,1207.32 408.68,1206.68 396.47,1206.06 384.26,1205.47 372.05,1204.91 359.84,1204.37 347.63,1203.87 335.41,1203.38 323.2,1202.93 310.99,1202.51 298.78,1202.11 286.57,1201.73 274.35,1201.39 262.14,1201.06 249.93,1200.76 237.72,1200.48 225.51,1200.22 213.29,1199.97 201.08,1199.74 188.87,1199.53 176.66,1199.33 164.45,1199.14 152.24,1198.97 140.02,1198.8 127.81,1198.65 115.6,1198.5" fill="#3B4992" fill-opacity="0.4"/>
<line x1="115.6" y1="1187.5" x2="836.1" y2="1216" stroke="#3B4992" stroke-width="4.2"/>
<polygon points="124.4,1118.5 136.62,1118.97 148.83,1119.44 161.05,1119.9 173.26,1120.35 185.48,1120.81 197.69,1121.25 209.91,1121.69 222.12,1122.12 234.34,1122.55 246.55,1122.97 258.77,1123.38 270.98,1123.78 283.2,1124.17 295.41,1124.55 307.63,1124.92 319.84,1125.28 332.06,1125.62 344.27,1125.96 356.49,1126.27 368.71,1126.58 380.92,1126.87 393.14,1127.14 405.35,1127.39 417.57,1127.63 429.78,1127.85 442,1128.06 454.21,1128.25 466.43,1128.42 478.64,1128.57 490.86,1128.7 503.07,1128.82 515.29,1128.92 527.5,1129.01 539.72,1129.08 551.93,1129.14 564.15,1129.19 576.36,1129.22 588.58,1129.24 600.79,1129.25 613.01,1129.25 625.23,1129.24 637.44,1129.22 649.66,1129.2 661.87,1129.16 674.09,1129.12 686.3,1129.07 698.52,1129.01 710.73,1128.95 722.95,1128.89 735.16,1128.82 747.38,1128.74 759.59,1128.66 771.81,1128.58 784.02,1128.49 796.24,1128.4 808.45,1128.3 820.67,1128.2 832.88,1128.1 845.1,1128 845.1,1155 832.88,1154.51 820.67,1154.02 808.45,1153.53 796.24,1153.04 784.02,1152.56 771.81,1152.09 759.59,1151.61 747.38,1151.14 735.16,1150.68 722.95,1150.21 710.73,1149.76 698.52,1149.31 686.3,1148.86 674.09,1148.42 661.87,1147.99 649.66,1147.57 637.44,1147.15 625.23,1146.74 613.01,1146.34 600.79,1145.95 588.58,1145.57 576.36,1145.2 564.15,1144.84 551.93,1144.5 539.72,1144.17 527.5,1143.85 515.29,1143.55 503.07,1143.26 490.86,1142.99 478.64,1142.74 466.43,1142.5 454.21,1142.28 442,1142.08 429.78,1141.89 417.57,1141.72 405.35,1141.57 393.14,1141.44 380.92,1141.32 368.71,1141.22 356.49,1141.13 344.27,1141.06 332.06,1141 319.84,1140.96 307.63,1140.93 295.41,1140.91 283.2,1140.9 270.98,1140.9 258.77,1140.91 246.55,1140.93 234.34,1140.96 222.12,1140.99 209.91,1141.04 197.69,1141.09 185.48,1141.14 173.26,1141.2 161.05,1141.27 148.83,1141.34 136.62,1141.42 124.4,1141.5" fill="#EE0000" fill-opacity="0.4"/>
<line x1="124.4" y1="1130" x2="845.1" y2="1141.5" stroke="#EE0000" stroke-width="4.2"/>
<rect x="84.8" y="947" width="887.2" height="387.95" fill="none" stroke="#000" stroke-width="1.8"/>
<path d="M147.5 1334.95v6.3M274.25 1334.95v6.3M401 1334.95v6.3M527.75 1334.95v6.3M654.5 1334.95v6.3M781.25 1334.95v6.3M908 1334.95v6.3M84.8 996h-6.3M84.8 1060.3h-6.3M84.8 1124.6h-6.3M84.8 1188.9h-6.3M84.8 1253.2h-6.3M84.8 1317.5h-6.3" stroke="#000" stroke-width="2.2" fill="none"/>
<g font-size="23.3" fill="#000">
<text x="147.5" y="1362.25" text-anchor="middle">20</text><text x="274.25" y="1362.25" text-anchor="middle">30</text><text x="401" y="1362.25" text-anchor="middle">40</text><text x="527.75" y="1362.25" text-anchor="middle">50</text><text x="654.5" y="1362.25" text-anchor="middle">60</text><text x="781.25" y="1362.25" text-anchor="middle">70</text><text x="908" y="1362.25" text-anchor="middle">80</text><text x="73.9" y="1004.4" text-anchor="end">90</text><text x="73.9" y="1068.7" text-anchor="end">80</text><text x="73.9" y="1133" text-anchor="end">70</text><text x="73.9" y="1197.3" text-anchor="end">60</text><text x="73.9" y="1261.6" text-anchor="end">50</text><text x="73.9" y="1325.9" text-anchor="end">40</text>
</g>
<text transform="translate(24 1140.97) rotate(-90)" font-size="28.0" text-anchor="middle">HR (bpm)</text>
<text x="528.4" y="1391.3" font-size="25.5" text-anchor="middle">Age (years)</text>
<text x="3" y="965.6" font-size="28.8" font-weight="bold">C</text>
<text x="731.7" y="992.9" font-size="19.7" style="color:#3B4992" fill="currentColor" word-spacing="-0.9" xml:space="preserve"><tspan font-style="italic">R</tspan><tspan font-size="14.18" dy="-8.6" dx="1.5">2</tspan><tspan dy="8.6" dx="4.6">= 0.037 , </tspan><tspan font-style="italic" dx="0.5">p</tspan><tspan dx="0.4"> = 0.017</tspan></text>
<text x="731.7" y="1025.9" font-size="19.7" style="color:#EE0000" fill="currentColor" word-spacing="-0.9" xml:space="preserve"><tspan font-style="italic">R</tspan><tspan font-size="14.18" dy="-8.6" dx="1.5">2</tspan><tspan dy="8.6" dx="4.6">= 0.0095 , </tspan><tspan font-style="italic" dx="0.5">p</tspan><tspan dx="0.4"> = 0.29</tspan></text>
</g>
<g id="panelD">
<g>
<circle cx="1259.1" cy="166.9" r="9.9" fill="#EE0000"/><circle cx="1220.6" cy="198.1" r="9.9" fill="#EE0000"/><circle cx="1360.6" cy="221.9" r="9.9" fill="#EE0000"/><circle cx="1386.25" cy="210.6" r="9.9" fill="#EE0000"/><circle cx="1271.9" cy="245.6" r="9.9" fill="#EE0000"/><circle cx="1310" cy="271.25" r="9.9" fill="#EE0000"/><circle cx="1196" cy="281.25" r="9.9" fill="#EE0000"/><circle cx="1195" cy="321.25" r="9.9" fill="#EE0000"/><circle cx="1233.75" cy="331.25" r="9.9" fill="#EE0000"/><circle cx="1245" cy="321.25" r="9.9" fill="#EE0000"/><circle cx="1261.25" cy="331.25" r="9.9" fill="#EE0000"/><circle cx="1310" cy="331.9" r="9.9" fill="#EE0000"/><circle cx="1366.9" cy="323.5" r="9.9" fill="#EE0000"/><circle cx="1420" cy="285" r="9.9" fill="#EE0000"/><circle cx="1419" cy="323.6" r="9.9" fill="#EE0000"/><circle cx="1487" cy="284.4" r="9.9" fill="#EE0000"/><circle cx="1500.6" cy="282" r="9.9" fill="#EE0000"/><circle cx="1494" cy="312" r="9.9" fill="#EE0000"/><circle cx="1494" cy="328" r="9.9" fill="#EE0000"/><circle cx="1677" cy="248.4" r="9.9" fill="#EE0000"/><circle cx="1676.6" cy="279.6" r="9.9" fill="#EE0000"/><circle cx="1693" cy="292" r="9.9" fill="#EE0000"/><circle cx="1725" cy="309" r="9.9" fill="#EE0000"/><circle cx="1629.4" cy="312" r="9.9" fill="#EE0000"/><circle cx="1620" cy="324" r="9.9" fill="#EE0000"/><circle cx="1627.4" cy="328" r="9.9" fill="#EE0000"/><circle cx="1620.6" cy="338" r="9.9" fill="#EE0000"/><circle cx="1747.4" cy="334" r="9.9" fill="#EE0000"/><circle cx="1747.4" cy="343" r="9.9" fill="#EE0000"/><circle cx="1813.5" cy="192.5" r="9.9" fill="#EE0000"/><circle cx="1843" cy="310" r="9.9" fill="#EE0000"/><circle cx="1868.2" cy="308.8" r="9.9" fill="#EE0000"/><circle cx="1246.5" cy="95" r="9.9" fill="#3B4992"/><circle cx="1310" cy="150.9" r="9.9" fill="#3B4992"/><circle cx="1234" cy="196" r="9.9" fill="#3B4992"/><circle cx="1271.9" cy="200.9" r="9.9" fill="#3B4992"/><circle cx="1322.75" cy="194.1" r="9.9" fill="#3B4992"/><circle cx="1373.5" cy="203.75" r="9.9" fill="#3B4992"/><circle cx="1196" cy="216.25" r="9.9" fill="#3B4992"/><circle cx="1221.25" cy="223.75" r="9.9" fill="#3B4992"/><circle cx="1246.5" cy="225.6" r="9.9" fill="#3B4992"/><circle cx="1297.25" cy="217.9" r="9.9" fill="#3B4992"/><circle cx="1234" cy="247.5" r="9.9" fill="#3B4992"/><circle cx="1234" cy="253.75" r="9.9" fill="#3B4992"/><circle cx="1170.6" cy="256.9" r="9.9" fill="#3B4992"/><circle cx="1183.1" cy="264.4" r="9.9" fill="#3B4992"/><circle cx="1171.9" cy="291.9" r="9.9" fill="#3B4992"/><circle cx="1175" cy="298" r="9.9" fill="#3B4992"/><circle cx="1182.5" cy="303.75" r="9.9" fill="#3B4992"/><circle cx="1173.1" cy="312.5" r="9.9" fill="#3B4992"/><circle cx="1172.5" cy="331.25" r="9.9" fill="#3B4992"/><circle cx="1181.25" cy="322.5" r="9.9" fill="#3B4992"/><circle cx="1195.6" cy="326.25" r="9.9" fill="#3B4992"/><circle cx="1208.75" cy="313.75" r="9.9" fill="#3B4992"/><circle cx="1208.75" cy="321.25" r="9.9" fill="#3B4992"/><circle cx="1212.5" cy="298.1" r="9.9" fill="#3B4992"/><circle cx="1233.1" cy="325" r="9.9" fill="#3B4992"/><circle cx="1246.9" cy="312.5" r="9.9" fill="#3B4992"/><circle cx="1290" cy="303.75" r="9.9" fill="#3B4992"/><circle cx="1325" cy="325.6" r="9.9" fill="#3B4992"/><circle cx="1221.5" cy="356.25" r="9.9" fill="#3B4992"/><circle cx="1246.5" cy="353.75" r="9.9" fill="#3B4992"/><circle cx="1297.25" cy="354.4" r="9.9" fill="#3B4992"/><circle cx="1263.75" cy="267.5" r="9.9" fill="#3B4992"/><circle cx="1272.5" cy="268.75" r="9.9" fill="#3B4992"/><circle cx="1290" cy="270.6" r="9.9" fill="#3B4992"/><circle cx="1249.4" cy="282.5" r="9.9" fill="#3B4992"/><circle cx="1291.25" cy="281.25" r="9.9" fill="#3B4992"/><circle cx="1321.25" cy="283.1" r="9.9" fill="#3B4992"/><circle cx="1348.1" cy="290" r="9.9" fill="#3B4992"/><circle cx="1763" cy="242" r="9.9" fill="#3B4992"/><circle cx="1709.4" cy="281" r="9.9" fill="#3B4992"/><circle cx="1682" cy="296" r="9.9" fill="#3B4992"/><circle cx="1729" cy="291" r="9.9" fill="#3B4992"/><circle cx="1705" cy="296" r="9.9" fill="#3B4992"/><circle cx="1716" cy="297" r="9.9" fill="#3B4992"/><circle cx="1255" cy="323.75" r="9.9" fill="#EE0000"/><circle cx="1265.6" cy="276.25" r="9.9" fill="#EE0000"/><circle cx="1258.75" cy="297.5" r="9.9" fill="#EE0000"/><circle cx="1272.5" cy="295" r="9.9" fill="#EE0000"/><circle cx="1290" cy="290" r="9.9" fill="#EE0000"/><circle cx="1315" cy="301.25" r="9.9" fill="#EE0000"/><circle cx="1263.75" cy="325" r="9.9" fill="#3B4992"/>
</g>
<polygon points="1170.6,266.5 1180.64,266.89 1190.68,267.24 1200.72,267.56 1210.76,267.84 1220.8,268.08 1230.84,268.28 1240.88,268.42 1250.93,268.5 1260.97,268.53 1271.01,268.5 1281.05,268.41 1291.09,268.25 1301.13,268.02 1311.17,267.73 1321.21,267.38 1331.25,266.97 1341.29,266.5 1351.33,265.97 1361.37,265.39 1371.41,264.77 1381.45,264.1 1391.49,263.39 1401.54,262.65 1411.58,261.87 1421.62,261.07 1431.66,260.24 1441.7,259.39 1451.74,258.51 1461.78,257.62 1471.82,256.71 1481.86,255.79 1491.9,254.85 1501.94,253.9 1511.98,252.93 1522.02,251.96 1532.06,250.98 1542.11,249.99 1552.15,248.99 1562.19,247.98 1572.23,246.97 1582.27,245.96 1592.31,244.93 1602.35,243.9 1612.39,242.87 1622.43,241.83 1632.47,240.79 1642.51,239.75 1652.55,238.7 1662.59,237.65 1672.63,236.59 1682.67,235.54 1692.72,234.48 1702.76,233.41 1712.8,232.35 1722.84,231.28 1732.88,230.22 1742.92,229.15 1752.96,228.07 1763,227 1763,317 1752.96,316.32 1742.92,315.63 1732.88,314.95 1722.84,314.28 1712.8,313.6 1702.76,312.92 1692.72,312.25 1682.67,311.58 1672.63,310.92 1662.59,310.25 1652.55,309.59 1642.51,308.93 1632.47,308.28 1622.43,307.62 1612.39,306.98 1602.35,306.33 1592.31,305.7 1582.27,305.06 1572.23,304.43 1562.19,303.81 1552.15,303.2 1542.11,302.59 1532.06,301.99 1522.02,301.39 1511.98,300.81 1501.94,300.24 1491.9,299.68 1481.86,299.13 1471.82,298.59 1461.78,298.07 1451.74,297.57 1441.7,297.09 1431.66,296.62 1421.62,296.18 1411.58,295.77 1401.54,295.39 1391.49,295.03 1381.45,294.72 1371.41,294.44 1361.37,294.2 1351.33,294.01 1341.29,293.88 1331.25,293.8 1321.21,293.77 1311.17,293.81 1301.13,293.91 1291.09,294.07 1281.05,294.3 1271.01,294.6 1260.97,294.96 1250.93,295.38 1240.88,295.85 1230.84,296.39 1220.8,296.97 1210.76,297.6 1200.72,298.27 1190.68,298.98 1180.64,299.72 1170.6,300.5" fill="#3B4992" fill-opacity="0.4"/>
<line x1="1170.6" y1="283.5" x2="1763" y2="272" stroke="#3B4992" stroke-width="4.2"/>
<polygon points="1195.6,266.35 1207.01,267.26 1218.41,268.16 1229.82,269.05 1241.22,269.93 1252.63,270.81 1264.03,271.67 1275.44,272.52 1286.84,273.35 1298.25,274.17 1309.65,274.97 1321.06,275.76 1332.46,276.52 1343.87,277.26 1355.27,277.98 1366.68,278.67 1378.08,279.32 1389.49,279.95 1400.89,280.54 1412.3,281.09 1423.7,281.6 1435.11,282.07 1446.51,282.49 1457.92,282.87 1469.32,283.21 1480.73,283.49 1492.13,283.74 1503.54,283.93 1514.94,284.09 1526.35,284.2 1537.75,284.27 1549.16,284.31 1560.56,284.32 1571.97,284.29 1583.37,284.24 1594.78,284.16 1606.18,284.06 1617.59,283.94 1628.99,283.8 1640.4,283.64 1651.8,283.46 1663.21,283.27 1674.61,283.07 1686.02,282.86 1697.42,282.64 1708.83,282.4 1720.23,282.16 1731.64,281.91 1743.04,281.66 1754.45,281.39 1765.85,281.12 1777.26,280.85 1788.66,280.57 1800.07,280.29 1811.47,280 1822.88,279.7 1834.28,279.41 1845.69,279.11 1857.09,278.81 1868.5,278.5 1868.5,331.5 1857.09,330.54 1845.69,329.58 1834.28,328.62 1822.88,327.67 1811.47,326.72 1800.07,325.77 1788.66,324.83 1777.26,323.89 1765.85,322.96 1754.45,322.03 1743.04,321.11 1731.64,320.2 1720.23,319.29 1708.83,318.39 1697.42,317.5 1686.02,316.62 1674.61,315.75 1663.21,314.89 1651.8,314.04 1640.4,313.21 1628.99,312.39 1617.59,311.59 1606.18,310.81 1594.78,310.05 1583.37,309.32 1571.97,308.61 1560.56,307.93 1549.16,307.27 1537.75,306.65 1526.35,306.07 1514.94,305.53 1503.54,305.02 1492.13,304.56 1480.73,304.15 1469.32,303.78 1457.92,303.45 1446.51,303.17 1435.11,302.94 1423.7,302.75 1412.3,302.6 1400.89,302.5 1389.49,302.43 1378.08,302.4 1366.68,302.4 1355.27,302.43 1343.87,302.49 1332.46,302.57 1321.06,302.68 1309.65,302.8 1298.25,302.95 1286.84,303.11 1275.44,303.29 1264.03,303.48 1252.63,303.68 1241.22,303.9 1229.82,304.12 1218.41,304.36 1207.01,304.6 1195.6,304.85" fill="#EE0000" fill-opacity="0.4"/>
<line x1="1195.6" y1="285.6" x2="1868.5" y2="305" stroke="#EE0000" stroke-width="4.2"/>
<rect x="1120" y="4.6" width="888" height="387.3" fill="none" stroke="#000" stroke-width="1.8"/>
<path d="M1183.25 391.9v6.3M1310.1 391.9v6.3M1436.95 391.9v6.3M1563.8 391.9v6.3M1690.65 391.9v6.3M1817.5 391.9v6.3M1944.35 391.9v6.3M1120 21.75h-6.3M1120 104.75h-6.3M1120 187.75h-6.3M1120 270.75h-6.3M1120 353.75h-6.3" stroke="#000" stroke-width="2.2" fill="none"/>
<g font-size="23.3" fill="#000">
<text x="1183.25" y="419.2" text-anchor="middle">20</text><text x="1310.1" y="419.2" text-anchor="middle">30</text><text x="1436.95" y="419.2" text-anchor="middle">40</text><text x="1563.8" y="419.2" text-anchor="middle">50</text><text x="1690.65" y="419.2" text-anchor="middle">60</text><text x="1817.5" y="419.2" text-anchor="middle">70</text><text x="1944.35" y="419.2" text-anchor="middle">80</text><text x="1109.8" y="30.15" text-anchor="end">2.2</text><text x="1109.8" y="113.15" text-anchor="end">1.8</text><text x="1109.8" y="196.15" text-anchor="end">1.4</text><text x="1109.8" y="279.15" text-anchor="end">1.0</text><text x="1109.8" y="362.15" text-anchor="end">0.6</text>
</g>
<text transform="translate(1059.4 286.3) rotate(-90)" font-size="28.0" text-anchor="start">CO / height<tspan font-size="19.32" dy="-14.7" dx="3.4">2.993</tspan></text>
<text x="1039" y="23.2" font-size="28.8" font-weight="bold">D</text>
<text x="1767.3" y="49.8" font-size="19.7" style="color:#3B4992" fill="currentColor" word-spacing="-0.9" xml:space="preserve"><tspan font-style="italic">R</tspan><tspan font-size="14.18" dy="-8.6" dx="1.5">2</tspan><tspan dy="8.6" dx="4.6">= 0.0037 , </tspan><tspan font-style="italic" dx="0.5">p</tspan><tspan dx="0.4"> = 0.66</tspan></text>
<text x="1767.3" y="82.8" font-size="19.7" style="color:#EE0000" fill="currentColor" word-spacing="-0.9" xml:space="preserve"><tspan font-style="italic">R</tspan><tspan font-size="14.18" dy="-8.6" dx="1.5">2</tspan><tspan dy="8.6" dx="4.6">= 0.022 , </tspan><tspan font-style="italic" dx="0.5">p</tspan><tspan dx="0.4"> = 0.33</tspan></text>
</g>
<g id="panelE">
<g>
<circle cx="1259.1" cy="647.25" r="9.9" fill="#EE0000"/><circle cx="1360.6" cy="679.75" r="9.9" fill="#EE0000"/><circle cx="1221.5" cy="713.75" r="9.9" fill="#EE0000"/><circle cx="1310" cy="739.4" r="9.9" fill="#EE0000"/><circle cx="1240" cy="760" r="9.9" fill="#EE0000"/><circle cx="1191.25" cy="787.5" r="9.9" fill="#EE0000"/><circle cx="1366.9" cy="799.75" r="9.9" fill="#EE0000"/><circle cx="1366.9" cy="810.6" r="9.9" fill="#EE0000"/><circle cx="1310" cy="818.75" r="9.9" fill="#EE0000"/><circle cx="1310" cy="826.25" r="9.9" fill="#EE0000"/><circle cx="1310" cy="834.4" r="9.9" fill="#EE0000"/><circle cx="1234" cy="830" r="9.9" fill="#EE0000"/><circle cx="1196" cy="840.6" r="9.9" fill="#EE0000"/><circle cx="1420.6" cy="778.6" r="9.9" fill="#EE0000"/><circle cx="1419.4" cy="827" r="9.9" fill="#EE0000"/><circle cx="1487.4" cy="789" r="9.9" fill="#EE0000"/><circle cx="1494" cy="782" r="9.9" fill="#EE0000"/><circle cx="1500.6" cy="778" r="9.9" fill="#EE0000"/><circle cx="1513" cy="780" r="9.9" fill="#EE0000"/><circle cx="1494" cy="820" r="9.9" fill="#EE0000"/><circle cx="1538.6" cy="808" r="9.9" fill="#EE0000"/><circle cx="1564" cy="807" r="9.9" fill="#EE0000"/><circle cx="1564" cy="825" r="9.9" fill="#EE0000"/><circle cx="1620.6" cy="787" r="9.9" fill="#EE0000"/><circle cx="1629.4" cy="785.6" r="9.9" fill="#EE0000"/><circle cx="1620.6" cy="826" r="9.9" fill="#EE0000"/><circle cx="1628" cy="819.6" r="9.9" fill="#EE0000"/><circle cx="1677.4" cy="738" r="9.9" fill="#EE0000"/><circle cx="1676.6" cy="768" r="9.9" fill="#EE0000"/><circle cx="1691.6" cy="818" r="9.9" fill="#EE0000"/><circle cx="1724.7" cy="797" r="9.9" fill="#EE0000"/><circle cx="1747.6" cy="804" r="9.9" fill="#EE0000"/><circle cx="1747.6" cy="827" r="9.9" fill="#EE0000"/><circle cx="1813.8" cy="768.3" r="9.9" fill="#EE0000"/><circle cx="1817.4" cy="804.6" r="9.9" fill="#EE0000"/><circle cx="1817.4" cy="810.6" r="9.9" fill="#EE0000"/><circle cx="1842.9" cy="797.5" r="9.9" fill="#EE0000"/><circle cx="1868.4" cy="782.1" r="9.9" fill="#EE0000"/><circle cx="1868.4" cy="788" r="9.9" fill="#EE0000"/><circle cx="1868.4" cy="793.5" r="9.9" fill="#EE0000"/><circle cx="1322.75" cy="536.9" r="9.9" fill="#3B4992"/><circle cx="1246.5" cy="589.4" r="9.9" fill="#3B4992"/><circle cx="1221.25" cy="631.9" r="9.9" fill="#3B4992"/><circle cx="1234" cy="637.1" r="9.9" fill="#3B4992"/><circle cx="1196" cy="642.9" r="9.9" fill="#3B4992"/><circle cx="1373.5" cy="632.9" r="9.9" fill="#3B4992"/><circle cx="1246.5" cy="663.75" r="9.9" fill="#3B4992"/><circle cx="1234" cy="686.5" r="9.9" fill="#3B4992"/><circle cx="1310.25" cy="679" r="9.9" fill="#3B4992"/><circle cx="1297.25" cy="683.75" r="9.9" fill="#3B4992"/><circle cx="1290" cy="691.8" r="9.9" fill="#3B4992"/><circle cx="1183.1" cy="707.25" r="9.9" fill="#3B4992"/><circle cx="1271.9" cy="704.4" r="9.9" fill="#3B4992"/><circle cx="1321.25" cy="707.5" r="9.9" fill="#3B4992"/><circle cx="1271.9" cy="717.5" r="9.9" fill="#3B4992"/><circle cx="1265" cy="722.5" r="9.9" fill="#3B4992"/><circle cx="1293.75" cy="722.5" r="9.9" fill="#3B4992"/><circle cx="1348.1" cy="727.5" r="9.9" fill="#3B4992"/><circle cx="1249.4" cy="735" r="9.9" fill="#3B4992"/><circle cx="1256.25" cy="733.75" r="9.9" fill="#3B4992"/><circle cx="1212.5" cy="736.25" r="9.9" fill="#3B4992"/><circle cx="1234" cy="743.75" r="9.9" fill="#3B4992"/><circle cx="1234" cy="751.25" r="9.9" fill="#3B4992"/><circle cx="1212.5" cy="755" r="9.9" fill="#3B4992"/><circle cx="1170.6" cy="753.1" r="9.9" fill="#3B4992"/><circle cx="1178.1" cy="767.5" r="9.9" fill="#3B4992"/><circle cx="1271.9" cy="751.25" r="9.9" fill="#3B4992"/><circle cx="1265.6" cy="760" r="9.9" fill="#3B4992"/><circle cx="1249.4" cy="767.5" r="9.9" fill="#3B4992"/><circle cx="1290" cy="765" r="9.9" fill="#3B4992"/><circle cx="1232.5" cy="773.75" r="9.9" fill="#3B4992"/><circle cx="1202.5" cy="778.75" r="9.9" fill="#3B4992"/><circle cx="1208.75" cy="786.25" r="9.9" fill="#3B4992"/><circle cx="1245" cy="782.5" r="9.9" fill="#3B4992"/><circle cx="1171.9" cy="792.5" r="9.9" fill="#3B4992"/><circle cx="1195.6" cy="796.9" r="9.9" fill="#3B4992"/><circle cx="1173.1" cy="805" r="9.9" fill="#3B4992"/><circle cx="1182.5" cy="813.75" r="9.9" fill="#3B4992"/><circle cx="1259.4" cy="805.6" r="9.9" fill="#3B4992"/><circle cx="1297.25" cy="800" r="9.9" fill="#3B4992"/><circle cx="1297.25" cy="810" r="9.9" fill="#3B4992"/><circle cx="1325" cy="806.9" r="9.9" fill="#3B4992"/><circle cx="1221.5" cy="822.5" r="9.9" fill="#3B4992"/><circle cx="1245" cy="815" r="9.9" fill="#3B4992"/><circle cx="1173.1" cy="840" r="9.9" fill="#3B4992"/><circle cx="1763" cy="710.4" r="9.9" fill="#3B4992"/><circle cx="1729" cy="741" r="9.9" fill="#3B4992"/><circle cx="1716" cy="743.8" r="9.9" fill="#3B4992"/><circle cx="1704" cy="753" r="9.9" fill="#3B4992"/><circle cx="1710" cy="763.8" r="9.9" fill="#3B4992"/><circle cx="1682" cy="793" r="9.9" fill="#3B4992"/><circle cx="1386" cy="644.4" r="9.9" fill="#EE0000"/><circle cx="1271.9" cy="761.25" r="9.9" fill="#EE0000"/><circle cx="1265" cy="772.5" r="9.9" fill="#EE0000"/><circle cx="1261.25" cy="787.5" r="9.9" fill="#EE0000"/><circle cx="1290" cy="785.6" r="9.9" fill="#EE0000"/><circle cx="1240" cy="795" r="9.9" fill="#EE0000"/><circle cx="1240" cy="803.75" r="9.9" fill="#EE0000"/><circle cx="1315.6" cy="798.1" r="9.9" fill="#EE0000"/><circle cx="1253.75" cy="816.25" r="9.9" fill="#EE0000"/><circle cx="1261.9" cy="821.25" r="9.9" fill="#EE0000"/>
</g>
<polygon points="1170.6,730.6 1180.64,730.89 1190.68,731.14 1200.72,731.35 1210.76,731.52 1220.8,731.64 1230.84,731.7 1240.88,731.7 1250.93,731.65 1260.97,731.52 1271.01,731.32 1281.05,731.06 1291.09,730.71 1301.13,730.29 1311.17,729.8 1321.21,729.23 1331.25,728.59 1341.29,727.89 1351.33,727.12 1361.37,726.29 1371.41,725.41 1381.45,724.47 1391.49,723.49 1401.54,722.47 1411.58,721.41 1421.62,720.31 1431.66,719.19 1441.7,718.04 1451.74,716.86 1461.78,715.66 1471.82,714.44 1481.86,713.2 1491.9,711.94 1501.94,710.68 1511.98,709.39 1522.02,708.1 1532.06,706.79 1542.11,705.48 1552.15,704.15 1562.19,702.82 1572.23,701.47 1582.27,700.13 1592.31,698.77 1602.35,697.41 1612.39,696.04 1622.43,694.67 1632.47,693.3 1642.51,691.92 1652.55,690.53 1662.59,689.14 1672.63,687.75 1682.67,686.36 1692.72,684.96 1702.76,683.56 1712.8,682.15 1722.84,680.75 1732.88,679.34 1742.92,677.93 1752.96,676.51 1763,675.1 1763,780.1 1752.96,779.46 1742.92,778.83 1732.88,778.2 1722.84,777.57 1712.8,776.95 1702.76,776.32 1692.72,775.7 1682.67,775.08 1672.63,774.47 1662.59,773.85 1652.55,773.25 1642.51,772.64 1632.47,772.04 1622.43,771.44 1612.39,770.85 1602.35,770.26 1592.31,769.68 1582.27,769.11 1572.23,768.54 1562.19,767.98 1552.15,767.42 1542.11,766.88 1532.06,766.34 1522.02,765.81 1511.98,765.3 1501.94,764.8 1491.9,764.31 1481.86,763.83 1471.82,763.37 1461.78,762.93 1451.74,762.51 1441.7,762.11 1431.66,761.74 1421.62,761.4 1411.58,761.08 1401.54,760.8 1391.49,760.56 1381.45,760.36 1371.41,760.2 1361.37,760.1 1351.33,760.05 1341.29,760.06 1331.25,760.13 1321.21,760.27 1311.17,760.48 1301.13,760.77 1291.09,761.13 1281.05,761.57 1271.01,762.08 1260.97,762.66 1250.93,763.32 1240.88,764.04 1230.84,764.82 1220.8,765.67 1210.76,766.56 1200.72,767.51 1190.68,768.5 1180.64,769.53 1170.6,770.6" fill="#3B4992" fill-opacity="0.4"/>
<line x1="1170.6" y1="750.6" x2="1763" y2="727.6" stroke="#3B4992" stroke-width="4.2"/>
<polygon points="1195.6,761.25 1207.01,762.02 1218.41,762.77 1229.82,763.52 1241.22,764.26 1252.63,764.99 1264.03,765.7 1275.44,766.41 1286.84,767.1 1298.25,767.77 1309.65,768.43 1321.06,769.07 1332.46,769.7 1343.87,770.3 1355.27,770.89 1366.68,771.45 1378.08,771.99 1389.49,772.5 1400.89,772.99 1412.3,773.46 1423.7,773.9 1435.11,774.31 1446.51,774.69 1457.92,775.04 1469.32,775.36 1480.73,775.66 1492.13,775.92 1503.54,776.16 1514.94,776.37 1526.35,776.56 1537.75,776.72 1549.16,776.86 1560.56,776.97 1571.97,777.06 1583.37,777.13 1594.78,777.18 1606.18,777.21 1617.59,777.23 1628.99,777.23 1640.4,777.21 1651.8,777.18 1663.21,777.14 1674.61,777.09 1686.02,777.02 1697.42,776.95 1708.83,776.87 1720.23,776.77 1731.64,776.67 1743.04,776.56 1754.45,776.45 1765.85,776.33 1777.26,776.2 1788.66,776.06 1800.07,775.93 1811.47,775.78 1822.88,775.63 1834.28,775.48 1845.69,775.32 1857.09,775.16 1868.5,775 1868.5,822.2 1857.09,821.36 1845.69,820.53 1834.28,819.7 1822.88,818.87 1811.47,818.05 1800.07,817.24 1788.66,816.43 1777.26,815.62 1765.85,814.82 1754.45,814.02 1743.04,813.23 1731.64,812.45 1720.23,811.68 1708.83,810.91 1697.42,810.16 1686.02,809.41 1674.61,808.67 1663.21,807.95 1651.8,807.23 1640.4,806.53 1628.99,805.84 1617.59,805.17 1606.18,804.51 1594.78,803.87 1583.37,803.25 1571.97,802.65 1560.56,802.06 1549.16,801.5 1537.75,800.97 1526.35,800.45 1514.94,799.97 1503.54,799.51 1492.13,799.07 1480.73,798.66 1469.32,798.29 1457.92,797.94 1446.51,797.62 1435.11,797.32 1423.7,797.06 1412.3,796.83 1400.89,796.62 1389.49,796.43 1378.08,796.28 1366.68,796.14 1355.27,796.03 1343.87,795.95 1332.46,795.88 1321.06,795.83 1309.65,795.8 1298.25,795.78 1286.84,795.79 1275.44,795.8 1264.03,795.83 1252.63,795.88 1241.22,795.93 1229.82,796 1218.41,796.07 1207.01,796.16 1195.6,796.25" fill="#EE0000" fill-opacity="0.4"/>
<line x1="1195.6" y1="778.75" x2="1868.5" y2="798.6" stroke="#EE0000" stroke-width="4.2"/>
<rect x="1120" y="475.75" width="888" height="387.5" fill="none" stroke="#000" stroke-width="1.8"/>
<path d="M1183.25 863.25v6.3M1310.1 863.25v6.3M1436.95 863.25v6.3M1563.8 863.25v6.3M1690.65 863.25v6.3M1817.5 863.25v6.3M1944.35 863.25v6.3M1120 525.4h-6.3M1120 621.65h-6.3M1120 717.9h-6.3M1120 814.15h-6.3" stroke="#000" stroke-width="2.2" fill="none"/>
<g font-size="23.3" fill="#000">
<text x="1183.25" y="890.55" text-anchor="middle">20</text><text x="1310.1" y="890.55" text-anchor="middle">30</text><text x="1436.95" y="890.55" text-anchor="middle">40</text><text x="1563.8" y="890.55" text-anchor="middle">50</text><text x="1690.65" y="890.55" text-anchor="middle">60</text><text x="1817.5" y="890.55" text-anchor="middle">70</text><text x="1944.35" y="890.55" text-anchor="middle">80</text><text x="1109.8" y="533.8" text-anchor="end">15</text><text x="1109.8" y="630.05" text-anchor="end">12</text><text x="1109.8" y="726.3" text-anchor="end">9</text><text x="1109.8" y="822.55" text-anchor="end">6</text>
</g>
<text transform="translate(1059.4 791.3) rotate(-90)" font-size="28.0" text-anchor="start">SV / height<tspan font-size="19.32" dy="-14.7" dx="3.4">4.159</tspan></text>
<text x="1039" y="494.35" font-size="28.8" font-weight="bold">E</text>
<text x="1767.3" y="521.7" font-size="19.7" style="color:#3B4992" fill="currentColor" word-spacing="-0.9" xml:space="preserve"><tspan font-style="italic">R</tspan><tspan font-size="14.18" dy="-8.6" dx="1.5">2</tspan><tspan dy="8.6" dx="4.6">= 0.0089 , </tspan><tspan font-style="italic" dx="0.5">p</tspan><tspan dx="0.4"> = 0.47</tspan></text>
<text x="1767.3" y="554.7" font-size="19.7" style="color:#EE0000" fill="currentColor" word-spacing="-0.9" xml:space="preserve"><tspan font-style="italic">R</tspan><tspan font-size="14.18" dy="-8.6" dx="1.5">2</tspan><tspan dy="8.6" dx="4.6">= 0.024 , </tspan><tspan font-style="italic" dx="0.5">p</tspan><tspan dx="0.4"> = 0.26</tspan></text>
</g>
<g id="panelF">
<g>
<circle cx="1221.2" cy="1038.2" r="9.9" fill="#EE0000"/><circle cx="1293.3" cy="1055.5" r="9.9" fill="#EE0000"/><circle cx="1233.4" cy="1069.4" r="9.9" fill="#EE0000"/><circle cx="1234.7" cy="1080.6" r="9.9" fill="#EE0000"/><circle cx="1196" cy="1093.3" r="9.9" fill="#EE0000"/><circle cx="1196" cy="1100.4" r="9.9" fill="#EE0000"/><circle cx="1382" cy="1108" r="9.9" fill="#EE0000"/><circle cx="1240" cy="1102.5" r="9.9" fill="#EE0000"/><circle cx="1233.75" cy="1117.5" r="9.9" fill="#EE0000"/><circle cx="1250" cy="1115" r="9.9" fill="#EE0000"/><circle cx="1261.25" cy="1112.5" r="9.9" fill="#EE0000"/><circle cx="1315" cy="1126.25" r="9.9" fill="#EE0000"/><circle cx="1310" cy="1133.75" r="9.9" fill="#EE0000"/><circle cx="1310" cy="1160.6" r="9.9" fill="#EE0000"/><circle cx="1322.5" cy="1162.5" r="9.9" fill="#EE0000"/><circle cx="1373.1" cy="1146.25" r="9.9" fill="#EE0000"/><circle cx="1373.1" cy="1153.75" r="9.9" fill="#EE0000"/><circle cx="1385.8" cy="1168" r="9.9" fill="#EE0000"/><circle cx="1360.6" cy="1174.4" r="9.9" fill="#EE0000"/><circle cx="1184.4" cy="1205.6" r="9.9" fill="#EE0000"/><circle cx="1283.75" cy="1211.25" r="9.9" fill="#EE0000"/><circle cx="1419.4" cy="1055" r="9.9" fill="#EE0000"/><circle cx="1420.6" cy="1064" r="9.9" fill="#EE0000"/><circle cx="1531" cy="1067" r="9.9" fill="#EE0000"/><circle cx="1519.4" cy="1077" r="9.9" fill="#EE0000"/><circle cx="1501.4" cy="1082" r="9.9" fill="#EE0000"/><circle cx="1490" cy="1091" r="9.9" fill="#EE0000"/><circle cx="1513" cy="1099" r="9.9" fill="#EE0000"/><circle cx="1531" cy="1102" r="9.9" fill="#EE0000"/><circle cx="1500" cy="1111.6" r="9.9" fill="#EE0000"/><circle cx="1489.4" cy="1115" r="9.9" fill="#EE0000"/><circle cx="1487.4" cy="1126" r="9.9" fill="#EE0000"/><circle cx="1500" cy="1140" r="9.9" fill="#EE0000"/><circle cx="1500" cy="1146" r="9.9" fill="#EE0000"/><circle cx="1513" cy="1148" r="9.9" fill="#EE0000"/><circle cx="1477.4" cy="1152.4" r="9.9" fill="#EE0000"/><circle cx="1494" cy="1175" r="9.9" fill="#EE0000"/><circle cx="1551" cy="1169.6" r="9.9" fill="#EE0000"/><circle cx="1576.6" cy="1160" r="9.9" fill="#EE0000"/><circle cx="1678" cy="1064.4" r="9.9" fill="#EE0000"/><circle cx="1691.6" cy="1056" r="9.9" fill="#EE0000"/><circle cx="1703.5" cy="1061.3" r="9.9" fill="#EE0000"/><circle cx="1681.6" cy="1096.6" r="9.9" fill="#EE0000"/><circle cx="1640" cy="1109" r="9.9" fill="#EE0000"/><circle cx="1638.6" cy="1116" r="9.9" fill="#EE0000"/><circle cx="1728.3" cy="1114.6" r="9.9" fill="#EE0000"/><circle cx="1728.3" cy="1125.8" r="9.9" fill="#EE0000"/><circle cx="1740.1" cy="1109" r="9.9" fill="#EE0000"/><circle cx="1748" cy="1133" r="9.9" fill="#EE0000"/><circle cx="1766.7" cy="1128.8" r="9.9" fill="#EE0000"/><circle cx="1753.5" cy="1146.3" r="9.9" fill="#EE0000"/><circle cx="1764" cy="1153.5" r="9.9" fill="#EE0000"/><circle cx="1627.4" cy="1148" r="9.9" fill="#EE0000"/><circle cx="1620.6" cy="1154" r="9.9" fill="#EE0000"/><circle cx="1628" cy="1160" r="9.9" fill="#EE0000"/><circle cx="1665" cy="1148" r="9.9" fill="#EE0000"/><circle cx="1622" cy="1177" r="9.9" fill="#EE0000"/><circle cx="1628" cy="1178" r="9.9" fill="#EE0000"/><circle cx="1644" cy="1175.6" r="9.9" fill="#EE0000"/><circle cx="1754" cy="1202.4" r="9.9" fill="#EE0000"/><circle cx="1770.8" cy="1205.5" r="9.9" fill="#EE0000"/><circle cx="1813.8" cy="1031" r="9.9" fill="#EE0000"/><circle cx="1868.1" cy="1101.1" r="9.9" fill="#EE0000"/><circle cx="1842.9" cy="1114.8" r="9.9" fill="#EE0000"/><circle cx="1804.8" cy="1143.3" r="9.9" fill="#EE0000"/><circle cx="1838.8" cy="1136.5" r="9.9" fill="#EE0000"/><circle cx="1879.8" cy="1128.6" r="9.9" fill="#EE0000"/><circle cx="1868.1" cy="1141.3" r="9.9" fill="#EE0000"/><circle cx="1880.8" cy="1148.1" r="9.9" fill="#EE0000"/><circle cx="1880.8" cy="1169.4" r="9.9" fill="#EE0000"/><circle cx="1794.8" cy="1178.4" r="9.9" fill="#EE0000"/><circle cx="1310" cy="1051" r="9.9" fill="#3B4992"/><circle cx="1246.6" cy="1070.4" r="9.9" fill="#3B4992"/><circle cx="1241.5" cy="1090.25" r="9.9" fill="#3B4992"/><circle cx="1229.75" cy="1103.1" r="9.9" fill="#3B4992"/><circle cx="1271.9" cy="1088.75" r="9.9" fill="#3B4992"/><circle cx="1271.9" cy="1111.9" r="9.9" fill="#3B4992"/><circle cx="1385.8" cy="1087.9" r="9.9" fill="#3B4992"/><circle cx="1171.25" cy="1113.75" r="9.9" fill="#3B4992"/><circle cx="1181.25" cy="1126.25" r="9.9" fill="#3B4992"/><circle cx="1208.75" cy="1128.1" r="9.9" fill="#3B4992"/><circle cx="1170" cy="1136.25" r="9.9" fill="#3B4992"/><circle cx="1171.9" cy="1151.5" r="9.9" fill="#3B4992"/><circle cx="1226.25" cy="1138.75" r="9.9" fill="#3B4992"/><circle cx="1251.25" cy="1141.25" r="9.9" fill="#3B4992"/><circle cx="1267.5" cy="1135" r="9.9" fill="#3B4992"/><circle cx="1290" cy="1161.8" r="9.9" fill="#3B4992"/><circle cx="1298.1" cy="1165.3" r="9.9" fill="#3B4992"/><circle cx="1285" cy="1183.75" r="9.9" fill="#3B4992"/><circle cx="1325.6" cy="1186.25" r="9.9" fill="#3B4992"/><circle cx="1162.5" cy="1171.25" r="9.9" fill="#3B4992"/><circle cx="1160" cy="1178.75" r="9.9" fill="#3B4992"/><circle cx="1151.25" cy="1195" r="9.9" fill="#3B4992"/><circle cx="1162.5" cy="1205.6" r="9.9" fill="#3B4992"/><circle cx="1188.1" cy="1221.9" r="9.9" fill="#3B4992"/><circle cx="1204.4" cy="1241.25" r="9.9" fill="#3B4992"/><circle cx="1221.25" cy="1243.75" r="9.9" fill="#3B4992"/><circle cx="1231.25" cy="1237.5" r="9.9" fill="#3B4992"/><circle cx="1221.9" cy="1228.75" r="9.9" fill="#3B4992"/><circle cx="1247.5" cy="1235" r="9.9" fill="#3B4992"/><circle cx="1259.4" cy="1240" r="9.9" fill="#3B4992"/><circle cx="1259.4" cy="1250" r="9.9" fill="#3B4992"/><circle cx="1259.4" cy="1261.25" r="9.9" fill="#3B4992"/><circle cx="1297.5" cy="1263.75" r="9.9" fill="#3B4992"/><circle cx="1283.1" cy="1240.6" r="9.9" fill="#3B4992"/><circle cx="1290" cy="1233.1" r="9.9" fill="#3B4992"/><circle cx="1297.5" cy="1241.9" r="9.9" fill="#3B4992"/><circle cx="1293.75" cy="1213.1" r="9.9" fill="#3B4992"/><circle cx="1322.5" cy="1219.4" r="9.9" fill="#3B4992"/><circle cx="1321.5" cy="1228.75" r="9.9" fill="#3B4992"/><circle cx="1372.5" cy="1196.25" r="9.9" fill="#3B4992"/><circle cx="1371.9" cy="1209.4" r="9.9" fill="#3B4992"/><circle cx="1348.1" cy="1193.75" r="9.9" fill="#3B4992"/><circle cx="1260" cy="1220" r="9.9" fill="#3B4992"/><circle cx="1210" cy="1162.5" r="9.9" fill="#3B4992"/><circle cx="1221.5" cy="1175.3" r="9.9" fill="#3B4992"/><circle cx="1221.3" cy="1195.4" r="9.9" fill="#3B4992"/><circle cx="1214" cy="1166" r="9.9" fill="#3B4992"/><circle cx="1215" cy="1155" r="9.9" fill="#3B4992"/><circle cx="1231.25" cy="1157.5" r="9.9" fill="#3B4992"/><circle cx="1196.25" cy="1170" r="9.9" fill="#3B4992"/><circle cx="1235" cy="1156.25" r="9.9" fill="#3B4992"/><circle cx="1247.5" cy="1173.75" r="9.9" fill="#3B4992"/><circle cx="1260" cy="1178.75" r="9.9" fill="#3B4992"/><circle cx="1603" cy="1094.6" r="9.9" fill="#3B4992"/><circle cx="1645" cy="1084" r="9.9" fill="#3B4992"/><circle cx="1536" cy="1121.4" r="9.9" fill="#3B4992"/><circle cx="1682" cy="1122.6" r="9.9" fill="#3B4992"/><circle cx="1519" cy="1162" r="9.9" fill="#3B4992"/><circle cx="1672.6" cy="1159.6" r="9.9" fill="#3B4992"/><circle cx="1766.7" cy="1158.5" r="9.9" fill="#3B4992"/><circle cx="1704.6" cy="1181.5" r="9.9" fill="#3B4992"/><circle cx="1437" cy="1188.4" r="9.9" fill="#3B4992"/><circle cx="1500.4" cy="1185" r="9.9" fill="#3B4992"/><circle cx="1475" cy="1200" r="9.9" fill="#3B4992"/><circle cx="1508" cy="1217" r="9.9" fill="#3B4992"/><circle cx="1611" cy="1205" r="9.9" fill="#3B4992"/><circle cx="1627" cy="1214.6" r="9.9" fill="#3B4992"/><circle cx="1690.6" cy="1199" r="9.9" fill="#3B4992"/><circle cx="1715.7" cy="1199.4" r="9.9" fill="#3B4992"/><circle cx="1728.6" cy="1197.6" r="9.9" fill="#3B4992"/><circle cx="1753.8" cy="1207" r="9.9" fill="#3B4992"/><circle cx="1753.8" cy="1211.5" r="9.9" fill="#3B4992"/><circle cx="1640" cy="1230" r="9.9" fill="#3B4992"/><circle cx="1610.6" cy="1240" r="9.9" fill="#3B4992"/><circle cx="1541" cy="1236" r="9.9" fill="#3B4992"/><circle cx="1541" cy="1241" r="9.9" fill="#3B4992"/><circle cx="1525.6" cy="1257.6" r="9.9" fill="#3B4992"/><circle cx="1564" cy="1256" r="9.9" fill="#3B4992"/><circle cx="1741.4" cy="1247.7" r="9.9" fill="#3B4992"/><circle cx="1805.8" cy="1191.8" r="9.9" fill="#3B4992"/><circle cx="1793.8" cy="1194.1" r="9.9" fill="#3B4992"/><circle cx="1853.1" cy="1191.1" r="9.9" fill="#3B4992"/><circle cx="1787.8" cy="1212.5" r="9.9" fill="#3B4992"/><circle cx="1871.8" cy="1226.5" r="9.9" fill="#3B4992"/><circle cx="1809.9" cy="1233.7" r="9.9" fill="#3B4992"/><circle cx="1791.8" cy="1266.8" r="9.9" fill="#3B4992"/><circle cx="1170.6" cy="1176" r="9.9" fill="#3B4992"/><circle cx="1170.6" cy="1185" r="9.9" fill="#3B4992"/><circle cx="1170.6" cy="1194" r="9.9" fill="#3B4992"/><circle cx="1183.2" cy="1196" r="9.9" fill="#3B4992"/><circle cx="1195.9" cy="1172" r="9.9" fill="#3B4992"/><circle cx="1195.9" cy="1181" r="9.9" fill="#3B4992"/><circle cx="1195.9" cy="1190" r="9.9" fill="#3B4992"/><circle cx="1195.9" cy="1199" r="9.9" fill="#3B4992"/><circle cx="1195.9" cy="1208" r="9.9" fill="#3B4992"/><circle cx="1195.9" cy="1217" r="9.9" fill="#3B4992"/><circle cx="1208.6" cy="1169" r="9.9" fill="#3B4992"/><circle cx="1208.6" cy="1178" r="9.9" fill="#3B4992"/><circle cx="1208.6" cy="1187" r="9.9" fill="#3B4992"/><circle cx="1208.6" cy="1196" r="9.9" fill="#3B4992"/><circle cx="1208.6" cy="1205" r="9.9" fill="#3B4992"/><circle cx="1208.6" cy="1214" r="9.9" fill="#3B4992"/><circle cx="1208.6" cy="1223" r="9.9" fill="#3B4992"/><circle cx="1208.6" cy="1232" r="9.9" fill="#3B4992"/><circle cx="1221.3" cy="1174" r="9.9" fill="#3B4992"/><circle cx="1221.3" cy="1219" r="9.9" fill="#3B4992"/><circle cx="1221.3" cy="1228" r="9.9" fill="#3B4992"/><circle cx="1221.3" cy="1237" r="9.9" fill="#3B4992"/><circle cx="1234" cy="1166" r="9.9" fill="#3B4992"/><circle cx="1234" cy="1175" r="9.9" fill="#3B4992"/><circle cx="1234" cy="1184" r="9.9" fill="#3B4992"/><circle cx="1234" cy="1193" r="9.9" fill="#3B4992"/><circle cx="1234" cy="1202" r="9.9" fill="#3B4992"/><circle cx="1234" cy="1211" r="9.9" fill="#3B4992"/><circle cx="1234" cy="1220" r="9.9" fill="#3B4992"/><circle cx="1234" cy="1229" r="9.9" fill="#3B4992"/><circle cx="1234" cy="1238" r="9.9" fill="#3B4992"/><circle cx="1246.7" cy="1176" r="9.9" fill="#3B4992"/><circle cx="1246.7" cy="1185" r="9.9" fill="#3B4992"/><circle cx="1246.7" cy="1194" r="9.9" fill="#3B4992"/><circle cx="1246.7" cy="1203" r="9.9" fill="#3B4992"/><circle cx="1246.7" cy="1212" r="9.9" fill="#3B4992"/><circle cx="1259.4" cy="1186" r="9.9" fill="#3B4992"/><circle cx="1259.4" cy="1195" r="9.9" fill="#3B4992"/><circle cx="1259.4" cy="1204" r="9.9" fill="#3B4992"/><circle cx="1259.4" cy="1213" r="9.9" fill="#3B4992"/><circle cx="1259.4" cy="1222" r="9.9" fill="#3B4992"/><circle cx="1259.4" cy="1231" r="9.9" fill="#3B4992"/><circle cx="1259.4" cy="1240" r="9.9" fill="#3B4992"/><circle cx="1272" cy="1186" r="9.9" fill="#3B4992"/><circle cx="1272" cy="1195" r="9.9" fill="#3B4992"/><circle cx="1272" cy="1204" r="9.9" fill="#3B4992"/><circle cx="1272" cy="1213" r="9.9" fill="#3B4992"/><circle cx="1247.5" cy="1170" r="9.9" fill="#EE0000"/><circle cx="1271.25" cy="1200" r="9.9" fill="#EE0000"/><circle cx="1272" cy="1093.7" r="9.9" fill="#EE0000"/><circle cx="1265" cy="1126.25" r="9.9" fill="#EE0000"/><circle cx="1283.75" cy="1133.75" r="9.9" fill="#EE0000"/><circle cx="1266.25" cy="1147.5" r="9.9" fill="#EE0000"/><circle cx="1246.25" cy="1151.25" r="9.9" fill="#EE0000"/><circle cx="1286.25" cy="1152.5" r="9.9" fill="#EE0000"/><circle cx="1524.6" cy="1175" r="9.9" fill="#EE0000"/><circle cx="1614.6" cy="1196" r="9.9" fill="#EE0000"/><circle cx="1272.5" cy="1208.75" r="9.9" fill="#3B4992"/>
</g>
<polygon points="1151.25,1170.25 1163.46,1171.06 1175.68,1171.86 1187.89,1172.64 1200.1,1173.42 1212.31,1174.18 1224.53,1174.93 1236.74,1175.66 1248.95,1176.38 1261.16,1177.08 1273.38,1177.76 1285.59,1178.41 1297.8,1179.04 1310.02,1179.64 1322.23,1180.22 1334.44,1180.76 1346.65,1181.27 1358.87,1181.75 1371.08,1182.2 1383.29,1182.62 1395.5,1183 1407.72,1183.35 1419.93,1183.67 1432.14,1183.96 1444.36,1184.23 1456.57,1184.47 1468.78,1184.68 1480.99,1184.88 1493.21,1185.05 1505.42,1185.21 1517.63,1185.35 1529.84,1185.47 1542.06,1185.59 1554.27,1185.69 1566.48,1185.78 1578.69,1185.86 1590.91,1185.93 1603.12,1185.99 1615.33,1186.04 1627.55,1186.09 1639.76,1186.14 1651.97,1186.17 1664.18,1186.21 1676.4,1186.23 1688.61,1186.26 1700.82,1186.28 1713.03,1186.3 1725.25,1186.31 1737.46,1186.32 1749.67,1186.33 1761.89,1186.33 1774.1,1186.34 1786.31,1186.34 1798.52,1186.34 1810.74,1186.34 1822.95,1186.33 1835.16,1186.33 1847.37,1186.32 1859.59,1186.31 1871.8,1186.3 1871.8,1228.3 1859.59,1227.41 1847.37,1226.52 1835.16,1225.62 1822.95,1224.74 1810.74,1223.85 1798.52,1222.96 1786.31,1222.08 1774.1,1221.2 1761.89,1220.32 1749.67,1219.44 1737.46,1218.57 1725.25,1217.69 1713.03,1216.82 1700.82,1215.96 1688.61,1215.1 1676.4,1214.24 1664.18,1213.38 1651.97,1212.53 1639.76,1211.69 1627.55,1210.85 1615.33,1210.01 1603.12,1209.18 1590.91,1208.36 1578.69,1207.55 1566.48,1206.75 1554.27,1205.95 1542.06,1205.17 1529.84,1204.4 1517.63,1203.64 1505.42,1202.9 1493.21,1202.17 1480.99,1201.46 1468.78,1200.78 1456.57,1200.11 1444.36,1199.46 1432.14,1198.85 1419.93,1198.25 1407.72,1197.69 1395.5,1197.16 1383.29,1196.66 1371.08,1196.19 1358.87,1195.76 1346.65,1195.36 1334.44,1194.99 1322.23,1194.65 1310.02,1194.34 1297.8,1194.06 1285.59,1193.8 1273.38,1193.58 1261.16,1193.37 1248.95,1193.18 1236.74,1193.02 1224.53,1192.87 1212.31,1192.73 1200.1,1192.61 1187.89,1192.51 1175.68,1192.41 1163.46,1192.33 1151.25,1192.25" fill="#3B4992" fill-opacity="0.4"/>
<line x1="1151.25" y1="1181.25" x2="1871.8" y2="1207.3" stroke="#3B4992" stroke-width="4.2"/>
<polygon points="1171.25,1115.9 1183.28,1116.39 1195.3,1116.88 1207.33,1117.36 1219.36,1117.83 1231.38,1118.3 1243.41,1118.76 1255.43,1119.22 1267.46,1119.67 1279.49,1120.11 1291.51,1120.54 1303.54,1120.96 1315.57,1121.37 1327.59,1121.77 1339.62,1122.15 1351.64,1122.52 1363.67,1122.88 1375.7,1123.21 1387.72,1123.52 1399.75,1123.81 1411.78,1124.08 1423.8,1124.32 1435.83,1124.53 1447.85,1124.72 1459.88,1124.87 1471.91,1124.99 1483.93,1125.08 1495.96,1125.14 1507.99,1125.16 1520.01,1125.16 1532.04,1125.12 1544.06,1125.05 1556.09,1124.95 1568.12,1124.83 1580.14,1124.68 1592.17,1124.51 1604.2,1124.32 1616.22,1124.11 1628.25,1123.88 1640.27,1123.64 1652.3,1123.38 1664.33,1123.11 1676.35,1122.83 1688.38,1122.54 1700.41,1122.24 1712.43,1121.93 1724.46,1121.61 1736.48,1121.28 1748.51,1120.95 1760.54,1120.61 1772.56,1120.27 1784.59,1119.92 1796.62,1119.57 1808.64,1119.21 1820.67,1118.85 1832.69,1118.49 1844.72,1118.12 1856.75,1117.75 1868.77,1117.38 1880.8,1117 1880.8,1152.2 1868.77,1151.69 1856.75,1151.18 1844.72,1150.67 1832.69,1150.17 1820.67,1149.67 1808.64,1149.18 1796.62,1148.68 1784.59,1148.2 1772.56,1147.71 1760.54,1147.23 1748.51,1146.76 1736.48,1146.29 1724.46,1145.83 1712.43,1145.38 1700.41,1144.93 1688.38,1144.49 1676.35,1144.06 1664.33,1143.65 1652.3,1143.24 1640.27,1142.85 1628.25,1142.47 1616.22,1142.11 1604.2,1141.76 1592.17,1141.43 1580.14,1141.13 1568.12,1140.84 1556.09,1140.59 1544.06,1140.35 1532.04,1140.15 1520.01,1139.98 1507.99,1139.83 1495.96,1139.72 1483.93,1139.64 1471.91,1139.6 1459.88,1139.58 1447.85,1139.6 1435.83,1139.65 1423.8,1139.73 1411.78,1139.83 1399.75,1139.96 1387.72,1140.12 1375.7,1140.3 1363.67,1140.49 1351.64,1140.71 1339.62,1140.94 1327.59,1141.19 1315.57,1141.45 1303.54,1141.73 1291.51,1142.01 1279.49,1142.31 1267.46,1142.61 1255.43,1142.93 1243.41,1143.25 1231.38,1143.58 1219.36,1143.91 1207.33,1144.25 1195.3,1144.6 1183.28,1144.95 1171.25,1145.3" fill="#EE0000" fill-opacity="0.4"/>
<line x1="1171.25" y1="1130.6" x2="1880.8" y2="1134.6" stroke="#EE0000" stroke-width="4.2"/>
<rect x="1120" y="947" width="888" height="387.95" fill="none" stroke="#000" stroke-width="1.8"/>
<path d="M1183.25 1334.95v6.3M1310.1 1334.95v6.3M1436.95 1334.95v6.3M1563.8 1334.95v6.3M1690.65 1334.95v6.3M1817.5 1334.95v6.3M1944.35 1334.95v6.3M1120 998.9h-6.3M1120 1069.7h-6.3M1120 1140.5h-6.3M1120 1211.3h-6.3M1120 1282.1h-6.3" stroke="#000" stroke-width="2.2" fill="none"/>
<g font-size="23.3" fill="#000">
<text x="1183.25" y="1362.25" text-anchor="middle">20</text><text x="1310.1" y="1362.25" text-anchor="middle">30</text><text x="1436.95" y="1362.25" text-anchor="middle">40</text><text x="1563.8" y="1362.25" text-anchor="middle">50</text><text x="1690.65" y="1362.25" text-anchor="middle">60</text><text x="1817.5" y="1362.25" text-anchor="middle">70</text><text x="1944.35" y="1362.25" text-anchor="middle">80</text><text x="1109.8" y="1007.3" text-anchor="end">150</text><text x="1109.8" y="1078.1" text-anchor="end">130</text><text x="1109.8" y="1148.9" text-anchor="end">110</text><text x="1109.8" y="1219.7" text-anchor="end">90</text><text x="1109.8" y="1290.5" text-anchor="end">70</text>
</g>
<text transform="translate(1059.4 1286.2) rotate(-90)" font-size="28.0" text-anchor="start">HR / weight<tspan font-size="19.32" dy="-14.7" dx="2.5">-0.879</tspan></text>
<text x="1563.6" y="1391.3" font-size="25.5" text-anchor="middle">Age (years)</text>
<text x="1039" y="965.6" font-size="28.8" font-weight="bold">F</text>
<text x="1767.3" y="992.9" font-size="19.7" style="color:#3B4992" fill="currentColor" word-spacing="-0.9" xml:space="preserve"><tspan font-style="italic">R</tspan><tspan font-size="14.18" dy="-8.6" dx="1.5">2</tspan><tspan dy="8.6" dx="4.6">= 0.032 , </tspan><tspan font-style="italic" dx="0.5">p</tspan><tspan dx="0.4"> = 0.04</tspan></text>
<text x="1767.3" y="1025.9" font-size="19.7" style="color:#EE0000" fill="currentColor" word-spacing="-0.9" xml:space="preserve"><tspan font-style="italic">R</tspan><tspan font-size="14.18" dy="-8.6" dx="1.5">2</tspan><tspan dy="8.6" dx="4.6">= 0.0013 , </tspan><tspan font-style="italic" dx="0.5">p</tspan><tspan dx="0.4"> = 0.73</tspan></text>
</g>
</svg>
</body></html>
